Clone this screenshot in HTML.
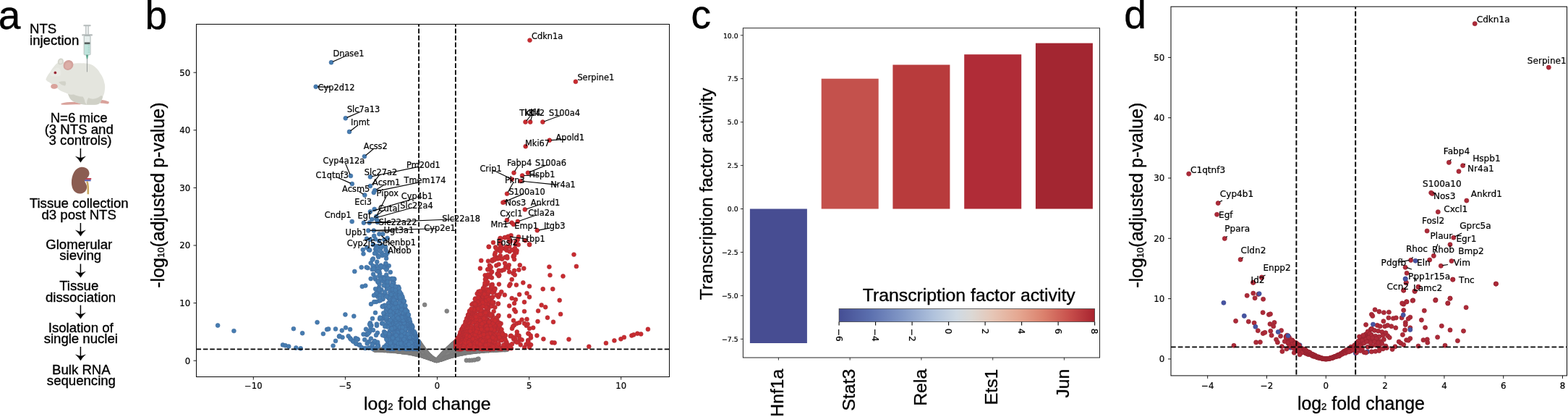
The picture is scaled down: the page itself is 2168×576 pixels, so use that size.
<!DOCTYPE html>
<html lang="en"><head><meta charset="utf-8"><title>Figure</title>
<style>
html,body{margin:0;padding:0;background:#fff;}
body{width:2168px;height:576px;overflow:hidden;}
svg{display:block;}
</style></head><body>
<svg width="2168" height="576" viewBox="0 0 2168 576">
<rect x="0" y="0" width="2168" height="576" fill="#ffffff"/>
<g id="panel-a">
<text x="-2.2" y="39.8" font-family="'Liberation Sans', sans-serif" font-size="55" text-anchor="start" fill="#000" stroke="#000" stroke-width="0.4" >a</text>
<text x="41.0" y="45.7" font-family="'Liberation Sans', sans-serif" font-size="18.6" text-anchor="start" fill="#000" stroke="#000" stroke-width="0.35" >NTS</text>
<text x="41.0" y="61.7" font-family="'Liberation Sans', sans-serif" font-size="18.6" text-anchor="start" fill="#000" stroke="#000" stroke-width="0.35" >injection</text>
<text x="109.2" y="169.0" font-family="'Liberation Sans', sans-serif" font-size="18.6" text-anchor="middle" fill="#000" stroke="#000" stroke-width="0.35" >N=6 mice</text>
<text x="109.2" y="184.5" font-family="'Liberation Sans', sans-serif" font-size="18.6" text-anchor="middle" fill="#000" stroke="#000" stroke-width="0.35" >(3 NTS and</text>
<text x="111.0" y="200.0" font-family="'Liberation Sans', sans-serif" font-size="18.6" text-anchor="middle" fill="#000" stroke="#000" stroke-width="0.35" >3 controls)</text>
<text x="109.2" y="286.8" font-family="'Liberation Sans', sans-serif" font-size="18.6" text-anchor="middle" fill="#000" stroke="#000" stroke-width="0.35" >Tissue collection</text>
<text x="109.2" y="303.0" font-family="'Liberation Sans', sans-serif" font-size="18.6" text-anchor="middle" fill="#000" stroke="#000" stroke-width="0.35" >d3 post NTS</text>
<text x="109.2" y="343.6" font-family="'Liberation Sans', sans-serif" font-size="18.6" text-anchor="middle" fill="#000" stroke="#000" stroke-width="0.35" >Glomerular</text>
<text x="111.2" y="359.4" font-family="'Liberation Sans', sans-serif" font-size="18.6" text-anchor="middle" fill="#000" stroke="#000" stroke-width="0.35" >sieving</text>
<text x="109.2" y="400.8" font-family="'Liberation Sans', sans-serif" font-size="18.6" text-anchor="middle" fill="#000" stroke="#000" stroke-width="0.35" >Tissue</text>
<text x="111.5" y="416.8" font-family="'Liberation Sans', sans-serif" font-size="18.6" text-anchor="middle" fill="#000" stroke="#000" stroke-width="0.35" >dissociation</text>
<text x="111.7" y="458.5" font-family="'Liberation Sans', sans-serif" font-size="18.6" text-anchor="middle" fill="#000" stroke="#000" stroke-width="0.35" >Isolation of</text>
<text x="111.8" y="473.8" font-family="'Liberation Sans', sans-serif" font-size="18.6" text-anchor="middle" fill="#000" stroke="#000" stroke-width="0.35" >single nuclei</text>
<text x="112.4" y="516.6" font-family="'Liberation Sans', sans-serif" font-size="18.6" text-anchor="middle" fill="#000" stroke="#000" stroke-width="0.35" >Bulk RNA</text>
<text x="112.4" y="532.4" font-family="'Liberation Sans', sans-serif" font-size="18.6" text-anchor="middle" fill="#000" stroke="#000" stroke-width="0.35" >sequencing</text>
<path d="M111.4 205 V220.7" stroke="#000" stroke-width="1.5" fill="none"/>
<path d="M104.5 216.1 Q108.9 217.8 111.4 218.3 Q113.9 217.8 118.3 216.1 Q113.6 220.1 111.4 224.3 Q109.2 220.1 104.5 216.1 Z" fill="#000" stroke="#000" stroke-width="0.4" stroke-linejoin="round"/>
<path d="M111.4 308 V322.6" stroke="#000" stroke-width="1.5" fill="none"/>
<path d="M104.5 318.0 Q108.9 319.7 111.4 320.2 Q113.9 319.7 118.3 318.0 Q113.6 322.0 111.4 326.2 Q109.2 322.0 104.5 318.0 Z" fill="#000" stroke="#000" stroke-width="0.4" stroke-linejoin="round"/>
<path d="M111.4 364.5 V379.7" stroke="#000" stroke-width="1.5" fill="none"/>
<path d="M104.5 375.1 Q108.9 376.8 111.4 377.3 Q113.9 376.8 118.3 375.1 Q113.6 379.1 111.4 383.3 Q109.2 379.1 104.5 375.1 Z" fill="#000" stroke="#000" stroke-width="0.4" stroke-linejoin="round"/>
<path d="M111.4 421.5 V436.7" stroke="#000" stroke-width="1.5" fill="none"/>
<path d="M104.5 432.1 Q108.9 433.8 111.4 434.3 Q113.9 433.8 118.3 432.1 Q113.6 436.1 111.4 440.3 Q109.2 436.1 104.5 432.1 Z" fill="#000" stroke="#000" stroke-width="0.4" stroke-linejoin="round"/>
<path d="M111.4 479 V494.4" stroke="#000" stroke-width="1.5" fill="none"/>
<path d="M104.5 489.8 Q108.9 491.5 111.4 492.0 Q113.9 491.5 118.3 489.8 Q113.6 493.8 111.4 498.0 Q109.2 493.8 104.5 489.8 Z" fill="#000" stroke="#000" stroke-width="0.4" stroke-linejoin="round"/>
<g id="mouse">
<path d="M139.5 137.8 Q146 138.6 150.6 140.6 Q151.2 143.4 148.6 143.6 Q143 142.6 138.5 142.6 Z" fill="#d9a29b"/>
<path d="M84.4 143 Q92 140.6 104 140.8 Q112 139.6 118 141.4 Q117 144.4 104 144.2 Q92 145 84.8 144.4 Z" fill="#d9a29b"/>
<path d="M63.5 109.2 C64.6 105.6 67 102.4 69.3 99.7 C71 96.6 72.6 94.2 74.5 91.9 C76.4 89.6 78.4 87.4 81 86 C86 84.6 92 86.6 97 88.6 C102 87.6 108 87.2 113.6 87.4 C119 87.2 124 88.2 128 90 C133 93 136.4 97 138.3 101 C141.4 105 143.4 109.4 144.2 114 C145.4 117.4 145.4 121 144.8 124.5 C144.6 128 143.6 131 142.2 133.6 C141.6 136 140.8 138.2 139.6 140.1 C138.6 142 137.4 143.4 135.7 144 C131 145 125 145 120.1 144.7 C115 144.6 110.6 143.6 107 142 C103.4 141 100 139.6 98 137.5 C96 135.4 95 132.4 94 129.7 C92 128.6 89.6 127.8 87.5 127 C85 126.2 82.8 125 81 123.2 C78 121 72 116.4 68 113.4 C66.4 113 65.4 112.4 64.8 111.5 C63.8 111 63.3 110.2 63.5 109.2 Z" fill="#e4e5de"/>
<path d="M94 129.7 C96 130.6 99 131 102 130.6 C106 132.6 110 133.6 114.6 133.4 C116.4 136 117.4 139 117.6 141.6 C118.6 142.8 119.4 143.8 120.1 144.7 C115 144.6 110.6 143.6 107 142 C103.4 141 100 139.6 98 137.5 C96 135.4 95 132.4 94 129.7 Z" fill="#cfd0c6"/>
<path d="M120.1 144.7 C119.8 141 120.4 137.6 122.4 135 C127 138 134 137 139 132.6 C140.6 131.6 141.6 132.4 142.2 133.6 C141.6 136 140.8 138.2 139.6 140.1 C138.6 142 137.4 143.4 135.7 144 C131 145 125 145 120.1 144.7 Z" fill="#d0d1c7"/>
<path d="M81 113.6 C84 112.4 87.6 112 90.4 112.6 C91.6 114.6 91.4 116.8 90 118.6 C87 118.4 84 117 81 113.6 Z" fill="#d2d3c9"/>
<path d="M70 99 C73 96 77 94 81 93.6 C84 96 85 100 84 104 C80 106 75 106.4 70.4 105 C69 103 69.2 101 70 99 Z" fill="#e9eae4"/>
<path d="M79.8 86.4 C79.6 82.4 82 80.2 84.6 80.4 C87.4 80.6 88.4 83.4 87.8 86 C87 88.6 85 89.6 82.6 89.2 C80.8 88.8 80 87.8 79.8 86.4 Z" fill="#d4d5cc"/>
<path d="M81.6 86 C81.6 83.6 83 82.2 84.6 82.4 C86.2 82.8 86.6 84.4 86.2 86 C85.6 87.6 84.2 88 83 87.8 C82 87.4 81.6 86.8 81.6 86 Z" fill="#e4e4dc"/>
<path d="M87.6 90.6 C87.8 85.6 91.8 82.6 96.4 83.2 C100.4 84 102.2 87.6 101 91.6 C99.6 95.6 95.4 97.8 91.6 96.6 C88.8 95.6 87.4 93.4 87.6 90.6 Z" fill="#d3a29c"/>
<path d="M89.8 90.8 C90.2 87.2 93 85.4 96 86 C98.6 86.8 99.4 89.4 98.4 92 C97.2 94.6 94.4 95.8 92.2 95 C90.4 94.2 89.6 92.6 89.8 90.8 Z" fill="#dcaea7"/>
<circle cx="76.4" cy="100.4" r="1.9" fill="#a8323f"/>
<circle cx="76.4" cy="100.4" r="0.8" fill="#7a1e2a"/>
<path d="M70.2 119.2 C70.4 116.8 72.6 115.8 75 116 C78 115.8 80 117.6 79.8 119.8 C79.4 122 77 123 74.6 122.8 C72 122.8 70 121.4 70.2 119.2 Z" fill="#d9a29b"/>
</g>
<g id="syringe">
<rect x="118.4" y="35.5" width="4.2" height="13" fill="#e3e7e7" stroke="#a9b0b0" stroke-width="0.7"/>
<rect x="115.4" y="34.2" width="10.2" height="2" rx="0.6" fill="#b4baba"/>
<rect x="113.2" y="47.3" width="14.7" height="2.3" rx="0.8" fill="#b4baba"/>
<rect x="116.2" y="49.5" width="8.8" height="26.3" rx="1" fill="#e6eeed" stroke="#a3adab" stroke-width="0.9"/>
<rect x="116.8" y="61" width="7.6" height="14.4" fill="#bfe4dc"/>
<rect x="116.8" y="58.4" width="7.6" height="2.7" fill="#56605e"/>
<path d="M121.6 63 h2.4 M121.6 66 h2.4 M121.6 69 h2.4 M121.6 72 h2.4" stroke="#7fb5a8" stroke-width="0.5"/>
<path d="M118.8 75.8 h3.4 l-1 5.6 h-1.4 Z" fill="#5aa58c"/>
<line x1="120.45" y1="81" x2="120.45" y2="99.4" stroke="#8a908e" stroke-width="0.9"/>
</g>
<g id="kidney">
<path d="M120.2 250.5 C122.4 255 121.6 262 121.8 268.2" stroke="#c9a962" stroke-width="2.6" fill="none"/>
<path d="M117 247 h9.2" stroke="#c0364a" stroke-width="1.9"/>
<path d="M117 249.2 h8.6" stroke="#5a5fae" stroke-width="2.2"/>
<path d="M112.5 230.8 C119 230.2 124.2 235 123.4 240.6 C122.8 244.6 119.6 246.6 117.2 248.6 C116 250.2 118.4 252.4 119.6 255.4 C121.4 260.4 118.4 267.2 111 267.6 C103.4 267.8 99 261 98.9 252.4 C98.8 242 103.8 231.6 112.5 230.8 Z" fill="#8b5d52"/>
</g>
</g>
<g id="panel-b">
<text x="200.4" y="39.7" font-family="'Liberation Sans', sans-serif" font-size="55" text-anchor="start" fill="#000" stroke="#000" stroke-width="0.4" >b</text>
<defs><marker id="m0" markerWidth="10" markerHeight="10" refX="5" refY="5" markerUnits="userSpaceOnUse" overflow="visible"><circle cx="5" cy="5" r="2.95" fill="#838383" stroke="#777777" stroke-width="0.6"/></marker></defs>
<path d="M560.9 482.6L617.9 488.8L557.2 485.7L602.2 497.5L561.2 486.6L558.5 485.3L659.1 483.3L639.5 488.1L696.0 482.6L594.2 492.8L607.9 495.2L609.7 496.4L614.2 495.0L629.1 482.3L540.8 483.5L629.5 478.9L552.1 484.2L604.6 497.9L602.8 497.6L596.4 495.3L574.6 487.4L659.4 484.3L630.4 483.5L536.7 482.6L663.1 485.2L624.1 485.1L680.2 482.3L593.4 492.2L612.8 489.7L602.6 497.6L619.6 481.8L605.4 497.4L586.7 491.6L663.6 484.6L627.9 481.4L582.6 481.0L612.0 495.1L593.5 493.1L590.6 492.5L592.8 490.9L698.4 483.0L622.9 486.9L588.3 486.0L594.2 491.5L591.8 493.1L601.3 497.2L665.7 484.2L618.4 487.3L611.4 494.6L576.9 486.5L584.1 479.8L558.2 482.9L609.2 496.0L648.6 483.1L668.6 484.1L626.1 476.3L658.7 485.0L674.5 483.1L581.8 484.8L612.4 488.7L610.6 495.0L596.8 494.2L578.2 485.5L598.5 495.6L625.8 490.5L610.7 491.2L649.6 484.0L589.5 492.0L682.5 483.8L599.8 496.9L642.9 486.8L573.0 488.2L638.5 486.3L681.8 482.8L541.3 483.1L587.6 492.6L594.6 495.1L651.2 482.4L574.9 489.3L577.7 484.4L573.7 487.0L618.6 487.5L604.4 497.8L651.6 483.5L570.4 483.6L633.0 484.6L587.6 484.9L630.0 484.0L577.7 483.4L559.8 485.1L582.5 483.0L593.2 492.0L595.3 492.5L646.3 485.3L565.1 483.7L571.0 483.3L585.8 491.4L604.5 497.8L595.7 494.3L611.3 492.9L659.2 483.6L628.5 490.6L591.4 492.4L594.1 494.4L583.0 479.0L583.9 480.4L572.0 486.7L592.6 492.5L584.1 481.7L667.4 483.9L566.9 484.6L596.7 494.8L622.1 481.2L637.1 482.6L558.9 485.5L623.5 488.3L638.5 487.2L561.7 484.7L630.2 487.8L658.1 484.2L519.0 483.4L675.4 484.2L618.7 485.6L576.9 483.9L591.4 494.0L630.3 490.2L634.0 483.5L606.0 497.5L624.1 482.7L557.1 483.7L621.1 482.5L656.7 485.1L590.6 490.8L606.8 496.2L609.2 493.3L616.7 490.8L630.1 484.7L555.8 483.3L598.2 495.8L624.7 490.6L529.7 482.4L601.3 497.1L586.0 485.8L633.7 485.4L585.9 483.1L629.3 482.2L522.7 482.8L620.4 482.8L659.2 483.5L599.5 496.0L580.4 474.2L648.2 483.3L598.2 496.0L663.6 484.2L567.0 487.5L562.6 483.4L620.8 486.8L668.2 484.6L616.0 486.8L619.5 484.0L632.9 488.7L630.0 484.5L639.0 483.3L572.6 485.7L524.7 482.4L626.1 483.0L617.5 491.0L597.8 495.4L554.2 482.9L575.9 486.9L593.2 491.1L624.2 479.3L590.3 487.4L558.6 485.8L597.5 495.2L556.0 486.2L603.5 497.6L568.7 483.5L600.9 497.0L550.0 485.4L607.6 495.4L528.0 482.4L650.5 485.4L586.2 488.0L607.6 494.4L637.3 486.7L580.8 487.8L544.7 484.7L549.8 483.0L627.6 487.2L607.8 494.7L589.9 489.4L634.5 488.7L602.3 497.5L586.4 490.0L618.6 488.8L645.9 485.4L567.1 487.0L627.1 487.8L570.1 485.2L567.2 483.1L550.9 484.9L559.2 483.4L633.0 487.4L533.2 483.6L626.6 474.9L592.9 490.6L622.0 482.8L624.1 488.2L659.6 484.2L643.0 483.4L629.9 477.8L630.2 490.3L620.9 481.3L655.9 482.4L636.1 483.9L632.5 486.0L595.4 495.3L583.3 490.2L648.3 484.5L615.0 489.8L618.3 491.6L622.6 480.8L685.7 483.6L599.5 496.8L642.3 483.6L592.6 493.0L562.6 485.1L613.3 490.7L659.6 482.8L609.1 496.0L548.6 484.2L621.2 490.4L626.2 491.2L641.2 482.9L622.2 480.8L551.8 483.6L564.8 484.9L631.7 482.4L613.8 487.8L578.6 484.3L615.9 490.7L540.2 482.5L644.4 483.5L566.9 483.6L557.2 486.2L636.3 486.7L599.4 496.4L605.5 496.9L586.1 482.6L586.3 485.7L577.1 485.6L649.0 484.4L569.8 483.7L561.4 482.4L653.2 483.3L611.5 494.4L595.2 494.8L611.1 493.9L626.5 476.5L620.2 486.4L599.9 496.5L655.2 483.0L602.9 497.8L555.4 486.0L570.0 482.7L626.1 488.8L638.4 485.5L595.0 492.4L596.6 494.9L557.1 484.9L596.5 495.2L578.9 488.1L566.7 483.9L602.8 497.7L610.2 496.3L637.5 486.2L654.2 482.7L604.4 497.6L593.1 490.5L673.7 483.5L638.9 485.5L630.7 486.1L600.0 496.3L597.7 494.6L565.1 483.3L590.5 489.9L593.8 493.2L607.8 495.3L615.6 493.6L555.0 484.4L623.1 488.6L572.2 483.8L586.2 487.0L692.4 482.6L603.2 497.8L661.3 482.9L653.8 483.7L586.6 485.7L626.4 482.2L562.2 483.5L577.1 488.5L605.1 497.1L611.8 495.7L597.5 495.7L560.2 486.4L627.0 482.2L618.1 486.4L611.2 492.7L581.1 483.4L579.3 486.7L571.8 483.3L653.4 485.9L651.8 483.8L648.8 483.3L613.1 493.6L640.9 483.4L569.3 482.3L642.5 486.0L548.3 482.5L586.8 488.5L593.5 491.3L616.3 493.8L644.3 485.0L627.4 479.5L585.9 491.6L663.1 484.6L596.8 495.3L592.0 490.6L594.5 494.7L577.3 487.3L599.4 496.7L570.9 484.1L532.2 482.4L570.9 482.8L545.2 484.3L628.9 485.1L537.4 482.5L653.5 485.2L582.6 486.2L630.4 487.2L586.7 487.1L619.7 483.7L539.0 483.3L587.4 491.2L608.6 495.8L531.2 484.1L560.1 484.3L600.1 496.3L567.1 487.6L552.2 483.9L608.0 496.9L590.0 488.7L616.6 488.0L595.6 495.2L603.1 497.8L553.0 485.1L608.7 493.6L561.5 485.2L555.5 483.6L684.1 483.0L549.2 483.2L591.3 488.8L548.1 483.3L640.0 483.2L627.7 475.8L541.2 482.4L576.9 484.5L571.0 483.5L571.7 487.9L622.1 482.5L639.0 487.4L602.6 497.6L578.2 482.5L617.9 493.3L598.2 495.5L620.9 483.0L610.0 494.1L616.0 488.9L612.7 495.0L599.3 496.6L609.8 492.8L630.0 485.6L608.2 496.0L627.0 488.4L605.9 496.6L573.8 483.6L577.1 483.1L608.1 493.6L580.0 474.1L642.0 485.2L606.6 495.2L615.7 487.0L571.8 485.5L633.3 487.6L656.5 485.0L601.3 497.3L570.7 483.6L610.4 492.3L588.1 491.7L591.6 492.4L600.3 496.7L676.2 483.0L632.5 485.8L603.3 497.9L604.7 497.6L602.7 497.5L611.0 494.6L591.2 489.9L637.9 485.7L627.8 474.5L544.4 484.2L568.1 483.5L535.7 484.2L644.0 483.2L616.0 489.5L647.5 486.3L619.6 489.7L577.7 489.6L590.8 489.6L642.0 485.9L598.0 495.8L589.0 489.8L670.0 483.1L590.7 493.8L564.4 486.2L643.6 484.6L599.5 495.9L605.8 496.3L617.7 490.9L651.9 484.9L575.5 487.1L597.1 495.3L590.8 492.7L580.8 478.9L563.5 484.5L679.8 482.8L571.8 488.2L662.6 484.8L648.9 483.6L634.4 488.1L549.1 483.6L643.5 487.2L607.6 496.9L625.1 485.5L676.4 483.4L639.8 485.2L568.0 483.3L556.0 484.7L586.5 492.4L636.5 486.3L573.3 483.7L578.4 490.2L563.3 485.6L576.2 489.0L647.7 485.2L541.9 482.7L600.8 496.9L637.6 482.9L655.4 484.0L579.3 488.0L638.0 484.1L647.2 483.6L600.9 496.9L632.4 485.1L685.5 483.4L627.6 481.2L617.8 486.4L565.4 485.7L676.4 483.3L672.8 484.1L671.9 482.5L560.5 484.3L592.2 493.1L697.8 482.5L544.7 483.4L652.1 485.2L650.8 482.7L607.2 494.9L650.9 485.8L591.0 493.8L600.3 496.9L688.5 482.7L597.6 495.7L576.8 487.0L553.3 483.8L606.6 497.0L598.4 495.8L626.4 482.1L632.0 488.6L576.9 485.6L601.1 497.1L598.3 495.5L596.8 495.7L651.1 484.5L592.3 492.4L565.7 483.6L566.3 483.7L614.8 487.5L626.9 484.0L575.7 485.5L640.5 485.1L580.1 483.3L630.3 489.9L586.8 485.6L651.3 484.0L570.6 483.8L588.4 492.6L649.4 486.2L564.8 485.5L618.3 493.3L589.7 491.9L563.6 485.8L583.8 490.9L620.4 481.7L656.0 482.8L593.5 493.1L613.1 489.8L580.8 481.6L617.8 485.3L595.3 495.1L519.5 483.6L584.0 488.7L594.9 495.1L634.5 483.0L618.8 489.6L571.7 485.0L613.1 488.6L607.0 496.5L521.5 482.3L605.3 497.2L612.5 488.9L633.2 483.0L627.3 485.2L668.4 483.6L639.0 482.3L669.1 484.2L588.9 486.5L587.3 492.3L649.5 485.4L639.9 482.9L642.9 487.0L563.4 483.8L640.2 487.8L589.8 492.0L584.8 489.7L657.0 485.2L609.3 492.9L656.9 484.5L565.7 484.5L541.6 484.2L578.9 485.0L681.7 483.5L594.6 491.9L592.6 492.4L561.4 486.8L596.8 494.6L598.7 495.6L630.9 489.5L591.4 492.7L662.8 484.4L582.7 478.8L597.7 494.6L643.2 483.6L612.8 492.8L642.3 486.9L586.5 487.0L583.9 483.4L578.0 484.0L562.5 483.0L600.1 496.5L517.7 483.3L593.2 491.4L629.2 486.4L646.5 485.0L613.5 489.0L542.6 484.3L579.4 480.0L606.2 496.5L651.3 483.5L615.1 489.7L620.1 491.4L588.4 493.0L566.5 485.4L605.4 497.3L608.6 493.0L591.3 490.9L543.8 484.4L587.6 491.6L600.6 496.9L614.2 489.9L576.9 485.4L600.1 496.9L613.9 493.2L584.8 490.1L580.1 477.1L542.0 484.7L575.8 488.1L622.5 479.0L644.3 483.5L615.3 485.6L628.6 477.6L635.4 488.9L608.9 496.3L679.2 483.4L593.4 494.5L640.2 488.0L664.9 483.0L603.0 497.8L603.6 497.9L649.6 484.7L635.4 486.9L590.6 487.6L596.7 495.1L598.0 495.3L635.0 484.4L616.2 485.9L542.0 483.7L564.5 485.4L623.7 480.7L575.4 488.0L591.5 491.1L623.1 490.0L611.6 493.0L628.2 485.5L641.2 484.1L620.2 488.5L586.2 491.7L592.3 493.1L573.0 489.0L616.0 490.8L629.8 473.5L598.4 496.0L577.0 488.8L635.5 483.9L591.5 490.1L610.5 494.6L600.5 496.9L668.3 484.0L641.2 483.6L592.6 492.7L603.1 497.8L624.2 483.1L609.7 496.6L590.2 490.2L639.1 487.6L597.1 494.6L577.9 484.9L619.0 490.4L623.7 481.7L575.4 483.3L624.2 488.6L595.9 495.1L636.1 488.8L654.1 484.0L612.2 490.1L634.1 484.7L599.9 496.3L616.0 488.1L657.7 482.4L622.1 484.0L585.3 491.2L572.6 488.6L620.1 488.5L584.8 488.8L641.3 487.1L571.4 487.7L627.7 479.6L605.5 497.2L620.2 488.0L632.0 484.6L642.7 484.7L602.1 497.4L597.2 495.4L637.9 488.3L618.5 488.2L570.2 486.5L583.9 488.6L637.0 483.0L609.3 494.0L600.6 497.0L657.2 484.1L538.2 483.7L545.9 483.5L661.7 483.4L582.8 482.8L573.2 487.2L624.1 479.7L629.9 473.6L580.6 490.2L632.3 487.5L636.4 486.6L518.1 483.1L518.8 483.1L519.5 483.2L520.2 483.2L520.9 483.2L521.6 483.2L522.3 483.3L523.0 483.3L523.7 483.3L524.4 483.4L525.1 483.4L525.8 483.4L526.6 483.5L527.3 483.5L528.0 483.5L528.7 483.6L529.4 483.6L530.1 483.7L530.8 483.7L531.5 483.7L532.2 483.8L532.9 483.8L533.6 483.9L534.3 483.9L535.0 484.0L535.7 484.0L536.4 484.1L537.2 484.1L537.9 484.2L538.6 484.2L539.3 484.3L540.0 484.3L540.7 484.4L541.4 484.4L542.1 484.5L542.8 484.5L543.5 484.6L544.2 484.7L544.9 484.7L545.6 484.8L546.3 484.8L547.0 484.9L547.8 485.0L548.5 485.0L549.2 485.1L549.9 485.2L550.6 485.3L551.3 485.3L552.0 485.4L552.7 485.5L553.4 485.6L554.1 485.7L554.8 485.7L555.5 485.8L556.2 485.9L556.9 486.0L557.6 486.1L558.4 486.2L559.1 486.3L559.8 486.4L560.5 486.5L561.2 486.6L561.9 486.7L562.6 486.8L563.3 486.9L564.0 487.0L564.7 487.1L565.4 487.3L566.1 487.4L566.8 487.5L567.5 487.6L568.2 487.8L569.0 487.9L569.7 488.0L570.4 488.2L571.1 488.3L571.8 488.4L572.5 488.6L573.2 488.7L573.9 488.9L574.6 489.0L575.3 489.2L576.0 489.3L576.7 489.5L577.4 489.7L578.1 489.8L578.8 490.0L579.6 490.2L580.3 490.4L581.0 490.6L581.7 490.8L582.4 490.9L583.1 491.1L583.8 491.3L584.5 491.5L585.2 491.8L585.9 492.0L586.6 492.2L587.3 492.4L588.0 492.6L588.7 492.8L589.4 493.1L590.2 493.3L590.9 493.5L591.6 493.8L592.3 494.0L593.0 494.3L593.7 494.5L594.4 494.7L595.1 495.0L595.8 495.2L596.5 495.5L597.2 495.7L597.9 495.9L598.6 496.2L599.3 496.4L600.0 496.6L600.8 496.7L601.5 496.9L602.2 497.0L602.9 497.1L603.6 497.2L604.3 497.2L605.0 497.2L605.7 497.2L606.4 497.1L607.1 497.0L607.8 496.8L608.5 496.7L609.2 496.5L609.9 496.3L610.6 496.1L611.4 495.8L612.1 495.6L612.8 495.4L613.5 495.1L614.2 494.9L614.9 494.6L615.6 494.4L616.3 494.2L617.0 493.9L617.7 493.7L618.4 493.4L619.1 493.2L619.8 493.0L620.5 492.8L621.2 492.5L622.0 492.3L622.7 492.1L623.4 491.9L624.1 491.7L624.8 491.5L625.5 491.3L626.2 491.1L626.9 490.9L627.6 490.7L628.3 490.5L629.0 490.3L629.7 490.1L630.4 490.0L631.1 489.8L631.8 489.6L632.6 489.4L633.3 489.3L634.0 489.1L634.7 489.0L635.4 488.8L636.1 488.7L636.8 488.5L637.5 488.4L638.2 488.2L638.9 488.1L639.6 488.0L640.3 487.8L641.0 487.7L641.7 487.6L642.4 487.5L643.2 487.3L643.9 487.2L644.6 487.1L645.3 487.0L646.0 486.9L646.7 486.8L647.4 486.7L648.1 486.6L648.8 486.5L649.5 486.4L650.2 486.3L650.9 486.2L651.6 486.1L652.3 486.0L653.0 485.9L653.8 485.8L654.5 485.7L655.2 485.6L655.9 485.5L656.6 485.5L657.3 485.4L658.0 485.3L658.7 485.2L659.4 485.2L660.1 485.1L660.8 485.0L661.5 485.0L662.2 484.9L662.9 484.8L663.6 484.8L664.3 484.7L665.1 484.6L665.8 484.6L666.5 484.5L667.2 484.5L667.9 484.4L668.6 484.3L669.3 484.3L670.0 484.2L670.7 484.2L671.4 484.1L672.1 484.1L672.8 484.0L673.5 484.0L674.2 483.9L674.9 483.9L675.7 483.9L676.4 483.8L677.1 483.8L677.8 483.7L678.5 483.7L679.2 483.6L679.9 483.6L680.6 483.6L681.3 483.5L682.0 483.5L682.7 483.5L683.4 483.4L684.1 483.4L684.8 483.4L685.5 483.3L686.3 483.3L687.0 483.3L687.7 483.2L688.4 483.2L689.1 483.2L689.8 483.1L690.5 483.1L691.2 483.1L691.9 483.1L692.6 483.0L693.3 483.0L694.0 483.0L694.7 483.0L695.4 482.9L696.1 482.9L696.9 482.9L697.6 482.9L698.3 482.9L699.0 482.8L699.7 482.8L700.4 482.8L701.1 482.8L579.1 471.9L579.9 473.3L580.8 474.6L581.7 475.8L582.5 477.1L583.4 478.3L584.3 479.5L585.1 480.7L586.0 481.9L586.8 483.0L587.7 484.1L588.6 485.2L589.4 486.2L590.3 487.2L591.1 488.2L592.0 489.1L592.9 490.1L593.7 491.0L594.6 491.8L595.5 492.6L596.3 493.4L597.2 494.1L598.0 494.8L598.9 495.5L599.8 496.1L600.6 496.6L601.5 497.1L602.3 497.5L603.2 497.6L604.1 497.6L604.9 497.4L605.8 496.1L606.7 495.0L607.5 493.9L608.4 492.9L609.2 491.9L610.1 490.9L611.0 490.0L611.8 489.1L612.7 488.2L613.5 487.3L614.4 486.4L615.3 485.5L616.1 484.7L617.0 483.8L617.9 483.0L618.7 482.2L619.6 481.3L620.4 480.5L621.3 479.7L622.2 478.9L623.0 478.1L623.9 477.3L624.7 476.5L625.6 475.8L626.5 475.0L627.3 474.2L628.2 473.5L629.1 472.7L629.9 471.9L587.2 421.0L617.8 429.7L644.9 497.8L649.0 497.8L652.5 497.6L656.0 497.2L660.0 496.3L661.5 495.6" fill="none" stroke="none" marker-start="url(#m0)" marker-mid="url(#m0)" marker-end="url(#m0)"/>
<defs><marker id="m1" markerWidth="10" markerHeight="10" refX="5" refY="5" markerUnits="userSpaceOnUse" overflow="visible"><circle cx="5" cy="5" r="2.95" fill="#467cb0" stroke="#416c9e" stroke-width="0.6"/></marker></defs>
<path d="M568.9 478.1L548.5 453.2L551.7 469.5L543.6 462.0L540.4 471.9L555.1 472.7L562.2 452.7L559.3 457.5L561.4 473.7L564.7 475.4L574.1 477.3L574.5 480.6L541.7 451.2L552.0 465.6L557.1 480.9L559.6 441.7L540.3 450.2L549.4 435.2L548.1 451.0L551.0 478.9L578.5 475.6L566.8 459.8L557.7 452.6L529.5 413.3L566.2 479.1L550.6 448.8L560.7 481.6L543.3 470.4L542.7 435.8L540.0 445.4L565.4 462.2L572.7 479.4L575.6 465.2L565.0 461.0L564.3 475.7L576.1 474.6L554.5 425.4L536.6 465.5L563.9 465.4L554.1 480.8L552.2 457.4L568.7 467.4L573.9 481.6L547.5 480.3L578.7 472.8L578.8 476.3L551.7 463.2L553.5 469.3L569.2 479.6L570.4 451.2L559.4 460.4L545.8 455.0L538.5 471.1L563.6 472.4L553.3 447.8L565.8 453.2L578.4 471.3L552.9 464.5L547.3 404.8L560.3 446.5L549.5 476.0L549.5 477.3L542.5 407.1L565.4 478.2L541.7 456.0L544.2 432.9L558.9 479.2L560.0 466.9L557.6 475.6L559.9 463.8L569.2 459.4L559.8 466.2L535.0 448.3L567.8 478.8L559.8 475.5L542.4 411.6L559.3 480.6L565.0 474.9L560.8 462.7L544.1 456.0L550.0 465.1L548.8 444.8L574.8 478.1L542.8 481.3L550.6 436.6L561.9 434.1L547.0 476.4L556.2 449.1L565.8 481.9L548.4 457.0L547.8 477.2L534.5 466.3L531.1 458.3L557.7 452.3L562.2 468.9L547.9 438.6L549.4 409.9L566.4 460.2L531.3 433.2L559.8 469.8L567.6 480.6L545.2 467.5L566.8 453.9L549.5 424.8L546.7 438.5L576.7 479.6L547.5 470.8L547.6 454.1L562.3 481.7L565.6 470.8L549.3 454.0L551.3 469.5L563.0 480.5L567.9 455.1L560.5 470.5L543.1 447.8L538.8 457.4L549.4 448.8L552.5 481.9L542.5 424.7L566.3 462.8L571.1 464.2L567.6 479.9L566.3 444.0L556.2 476.0L538.1 466.6L566.5 478.0L549.6 469.0L540.8 468.7L547.2 448.5L565.7 481.5L553.1 456.0L574.2 480.2L537.8 418.3L543.3 426.8L534.0 422.6L560.7 474.7L557.8 465.8L577.3 481.0L565.5 463.2L565.9 479.6L560.5 465.4L539.6 482.1L543.8 482.1L564.6 470.7L556.9 473.2L558.1 472.6L559.2 446.6L565.7 474.3L538.4 432.2L559.8 480.0L543.0 472.1L536.4 442.7L559.2 481.0L524.1 415.5L538.4 446.7L555.0 468.5L565.3 480.3L552.8 446.8L547.6 479.1L541.9 480.4L566.3 454.3L564.9 472.8L540.7 417.2L553.9 435.7L563.8 481.5L544.3 453.7L543.6 469.8L571.5 477.6L562.9 471.5L550.4 459.5L549.2 435.2L570.9 472.2L559.7 474.6L541.3 474.7L551.6 470.2L558.4 461.4L572.9 465.3L578.0 473.0L558.5 451.7L560.1 478.1L561.2 440.5L555.3 476.6L560.5 479.0L547.5 423.8L525.7 405.4L569.4 449.2L564.4 462.7L568.2 478.7L556.5 473.7L542.3 429.6L556.0 458.3L561.2 454.8L570.0 480.9L554.3 442.9L547.1 449.0L536.0 471.4L562.6 479.3L576.4 480.4L567.9 461.1L561.5 429.9L542.4 481.5L554.3 452.8L571.9 480.2L567.5 463.2L567.6 451.2L562.2 465.3L564.6 478.6L547.7 451.4L554.8 416.2L554.5 465.1L548.9 458.1L540.5 481.5L542.1 481.7L544.4 452.6L535.0 440.3L552.3 436.6L570.9 481.9L545.9 459.8L571.9 466.8L558.1 478.1L542.0 443.3L569.0 474.6L551.6 428.9L556.0 472.1L536.5 442.5L560.5 475.1L539.1 470.5L553.4 469.8L566.9 471.8L550.9 473.7L552.7 465.8L574.4 470.1L552.2 476.4L554.2 414.0L561.0 450.3L540.9 453.4L564.3 466.9L544.4 411.1L571.3 481.0L558.1 478.9L538.2 460.9L575.7 480.1L548.7 472.9L551.9 464.4L548.3 473.4L562.4 466.6L554.4 476.9L566.4 481.6L571.4 480.9L560.8 448.3L552.0 441.4L565.2 477.1L552.4 481.2L553.0 470.5L540.7 472.6L556.7 460.1L572.8 472.0L550.5 412.3L562.6 464.2L564.9 449.5L531.1 407.2L559.4 471.4L557.6 417.1L552.3 464.8L557.8 466.5L551.1 456.2L571.9 480.0L530.7 437.3L540.0 464.4L539.9 465.1L566.2 464.5L545.3 436.5L544.9 452.8L559.2 441.1L578.5 475.2L556.8 464.0L553.8 420.6L552.9 454.3L547.5 472.8L558.7 446.1L550.3 449.2L535.0 443.1L558.2 456.3L544.1 481.7L551.2 475.7L559.7 452.1L554.4 477.0L537.4 409.7L563.4 473.5L547.7 444.4L561.3 465.2L566.2 466.0L571.4 460.1L557.0 480.9L540.9 406.5L540.1 475.4L551.0 479.0L537.9 445.7L528.8 423.0L573.7 463.2L568.6 478.1L539.4 449.9L554.9 455.7L540.9 479.4L552.0 426.4L553.1 452.1L547.4 460.6L541.1 453.2L557.7 478.8L561.7 481.8L555.7 466.2L534.2 465.3L569.6 479.0L548.9 431.1L543.5 426.7L558.1 467.1L563.7 472.6L564.3 473.1L559.1 465.9L546.2 424.1L541.8 453.9L541.9 406.1L556.2 455.3L578.4 471.6L549.6 468.6L537.3 475.9L577.5 476.7L561.1 460.0L550.0 459.5L555.8 460.2L539.2 462.3L546.6 472.3L558.7 474.1L543.9 464.9L560.0 454.6L562.1 478.3L538.3 463.1L576.3 471.2L554.8 473.2L551.9 437.4L548.3 462.6L541.5 478.2L552.9 413.2L556.3 480.0L550.9 474.5L553.6 481.6L555.1 476.2L572.8 471.8L543.4 465.9L568.4 460.8L573.5 475.9L560.9 471.6L557.3 437.5L571.3 471.1L546.7 427.7L577.5 475.7L556.6 452.0L558.9 460.0L566.6 458.9L573.1 481.7L554.2 474.2L567.1 472.4L564.2 461.3L578.4 473.5L568.8 472.8L565.5 479.2L555.2 464.0L555.9 457.5L558.6 468.7L547.7 463.1L565.3 475.8L560.2 481.5L539.7 473.7L542.3 436.2L543.0 466.8L548.0 418.9L538.6 462.3L531.4 463.8L561.9 481.9L519.1 385.6L536.5 410.6L548.3 431.9L550.6 428.9L541.8 394.4L518.5 382.9L552.1 419.8L531.8 386.0L512.7 363.3L557.9 434.0L541.8 406.7L519.2 344.4L531.7 440.0L539.9 426.3L547.9 427.2L553.9 438.7L524.4 375.3L555.2 415.6L553.2 404.7L548.7 440.9L560.1 433.5L539.2 403.8L560.8 427.3L532.9 440.6L530.1 388.6L557.6 439.5L558.2 440.3L550.8 437.4L559.2 440.4L560.2 435.9L557.7 432.2L534.2 395.7L551.2 440.2L551.0 442.0L534.9 399.0L520.8 373.9L533.8 440.2L534.1 357.0L552.8 414.6L520.8 367.3L535.9 394.5L529.2 383.0L550.9 396.2L526.9 387.3L538.7 430.6L556.1 425.5L563.1 430.1L556.4 442.4L542.8 385.9L532.8 405.9L545.5 412.0L537.7 367.1L515.9 357.4L557.7 432.6L517.1 369.4L545.7 439.1L511.3 345.5L558.8 416.5L560.9 428.0L527.3 400.2L536.9 419.0L536.8 397.5L544.5 423.6L540.4 441.9L548.5 402.8L536.3 390.4L531.1 423.4L541.2 414.5L554.7 406.1L554.1 414.1L537.3 433.5L522.2 409.7L552.4 429.1L547.5 434.6L545.8 438.8L544.4 390.7L561.5 433.8L531.9 383.7L547.3 429.6L532.0 422.5L550.6 438.2L541.8 421.0L541.6 440.2L554.9 426.5L526.7 366.6L539.8 376.0L552.8 436.9L541.8 384.9L533.8 390.6L522.4 389.5L541.2 413.4L544.4 417.1L528.6 352.9L544.8 385.1L522.7 353.2L534.6 435.5L559.7 437.6L547.0 418.2L556.7 411.7L539.7 385.7L548.6 435.4L555.7 441.6L525.0 440.5L543.1 417.6L538.8 435.0L560.1 436.8L535.6 394.4L531.4 384.7L543.2 432.9L520.2 372.9L533.4 345.3L542.8 432.7L524.6 407.6L557.7 420.0L551.8 398.3L537.6 425.2L538.2 412.8L555.1 425.9L563.1 430.2L507.3 342.0L537.9 431.5L553.6 429.4L546.7 406.7L536.1 384.2L538.5 408.5L525.2 378.1L550.4 433.7L527.9 440.6L522.4 341.2L531.7 421.7L558.6 415.7L521.3 361.7L532.7 437.6L531.2 368.1L522.7 406.9L542.6 391.3L548.6 430.0L548.4 410.0L543.3 402.7L528.5 412.2L556.0 438.4L544.9 428.1L543.1 398.4L545.4 441.5L546.2 416.0L540.2 422.8L546.6 441.4L521.8 400.9L524.0 397.2L532.1 403.5L525.5 370.4L530.6 394.3L544.4 439.5L526.2 439.6L530.2 432.5L520.1 405.1L539.9 442.1L514.8 358.8L534.1 369.2L562.5 440.6L535.7 435.1L546.1 436.0L538.0 410.6L519.8 344.1L512.7 385.0L552.2 421.6L532.2 369.3L554.9 427.0L547.9 436.5L540.8 406.8L550.9 424.8L545.3 385.7L541.1 428.2L520.1 340.0L543.0 438.2L552.0 440.0L534.5 409.5L520.1 416.9L535.0 370.8L551.6 409.0L557.5 442.3L533.8 428.5L534.2 379.6L530.7 369.2L534.4 438.4L524.3 381.1L527.9 349.2L535.7 389.4L543.9 417.3L524.5 392.3L552.4 407.9L553.3 420.5L547.4 424.6L544.4 414.5L534.0 352.2L541.3 400.3L551.2 423.3L543.0 399.8L520.6 348.3L515.7 367.2L522.9 340.4L546.8 395.8L547.7 402.7L555.9 438.4L533.1 422.4L535.4 426.2L564.4 438.1L514.6 372.1L550.8 439.0L556.2 409.5L546.7 400.9L516.7 371.3L542.0 394.3L528.8 423.6L517.3 417.0L533.3 364.9L542.8 432.5L555.2 422.9L551.7 440.9L554.9 421.5L565.3 440.8L522.7 375.0L508.5 370.1L519.1 399.1L525.5 438.6L551.9 418.2L553.2 410.8L524.3 399.9L543.8 425.5L523.3 354.9L534.2 372.6L539.6 430.1L562.9 437.2L540.4 435.3L525.8 415.0L560.5 429.4L532.5 351.8L525.7 385.2L543.1 385.0L560.5 422.3L516.1 378.7L527.0 342.1L546.9 418.9L537.7 423.4L533.4 363.7L522.7 389.0L552.7 403.2L525.4 408.0L526.6 367.6L550.2 439.3L535.7 467.6L537.5 479.1L537.2 468.9L535.9 451.6L521.0 449.8L523.1 478.0L532.2 451.0L522.0 459.8L520.2 480.7L534.3 468.7L511.9 446.1L521.7 474.9L537.8 463.6L528.1 446.7L534.2 476.6L538.3 481.1L513.4 449.5L535.5 481.3L522.3 475.3L520.9 447.6L515.8 474.2L521.2 473.9L515.3 474.9L510.9 458.4L509.9 471.9L507.3 462.6L532.8 459.8L531.2 479.2L537.9 461.4L533.2 479.6L514.6 478.5L515.5 474.4L529.5 446.6L512.5 451.3L506.2 461.7L508.1 460.9L522.1 472.7L529.0 463.1L533.0 460.0L511.1 456.5L577.4 482.3L578.4 481.5L576.7 480.7L576.4 479.9L574.3 479.0L575.8 478.2L575.9 477.4L575.5 476.6L575.8 475.8L575.1 475.0L575.7 474.2L575.8 473.4L577.4 472.6L577.9 471.8L576.0 470.9L573.4 470.1L572.8 469.3L575.8 468.5L574.1 467.7L574.1 466.9L574.1 466.1L575.2 465.3L571.8 464.5L575.1 463.7L574.1 462.9L573.5 462.0L573.6 461.2L573.4 460.4L573.6 459.6L571.1 458.8L572.6 458.0L569.9 457.2L569.8 456.4L569.4 455.6L569.8 454.8L568.9 453.9L570.2 453.1L569.0 452.3L567.6 451.5L569.7 450.7L566.8 449.9L567.2 449.1L564.9 448.3L566.5 447.5L566.5 446.7L565.1 445.9L567.2 445.0L566.5 444.2L565.9 443.4L564.1 442.6L563.9 441.8L566.3 441.0L562.1 440.2L561.6 439.4L563.8 438.6L561.0 437.8L562.6 436.9L563.5 436.1L564.7 435.3L564.8 434.5L301.1 449.5L323.4 457.1L391.0 476.4L394.6 477.3L399.2 478.5L409.3 480.4L415.7 481.3L405.9 454.1L418.1 460.2L438.6 445.2L446.9 461.1L452.1 455.0L454.2 454.4L464.0 454.4L464.0 470.9L460.6 477.6L468.9 464.8L472.8 456.5L473.5 466.0L477.4 434.5L478.0 452.6L484.1 455.0L489.3 436.7L481.7 464.2L484.1 467.2L487.8 470.9L491.8 467.2L494.8 468.7L492.7 474.9L496.4 476.4L490.3 374.9L499.7 369.3L506.7 369.3L501.8 345.0L502.5 350.6L500.8 395.7L505.3 394.6L469.5 464.1L485.1 468.6L488.6 471.7L493.8 468.3L497.3 476.2L492.0 474.5L502.5 461.7L506.0 454.7L504.2 469.3L509.4 460.6L507.7 474.5L512.9 467.6L514.7 476.2L500.0 480.0L505.0 481.0L510.0 480.5L515.0 481.5L518.0 471.0L520.0 463.0L516.0 456.0L522.0 478.0L511.0 448.0L515.0 440.0L519.0 432.0L513.0 420.0L517.0 408.0L458.0 86.2L436.7 119.8L477.8 163.3L483.0 182.0L503.9 216.1L484.9 242.9L486.8 254.0L511.9 244.3L511.9 257.0L518.2 263.0L516.8 266.0L504.3 269.5L517.7 288.9L511.9 292.4L520.3 299.0L514.2 303.0L520.3 302.5L522.0 305.0L486.7 306.0L502.9 307.8L510.7 307.7L522.0 307.0L509.2 318.5L516.8 318.5L524.4 323.3L529.3 323.3L517.2 325.8L507.0 329.6L519.0 330.3L531.4 331.0L535.6 328.9L512.0 331.0L524.0 333.0L516.0 338.0L528.0 339.0L521.0 343.0L533.0 341.0L510.0 345.0L526.0 347.0L518.0 350.0L536.0 349.0" fill="none" stroke="none" marker-start="url(#m1)" marker-mid="url(#m1)" marker-end="url(#m1)"/>
<defs><marker id="m2" markerWidth="10" markerHeight="10" refX="5" refY="5" markerUnits="userSpaceOnUse" overflow="visible"><circle cx="5" cy="5" r="2.95" fill="#c92b2f" stroke="#ab2e35" stroke-width="0.6"/></marker></defs>
<path d="M677.7 459.5L670.3 467.7L641.1 462.0L691.1 453.7L654.7 465.6L638.6 477.7L689.3 450.5L630.2 479.9L665.3 421.4L661.5 477.7L664.9 430.4L654.2 461.8L671.0 403.5L664.2 430.8L647.0 473.6L648.5 467.6L672.6 457.6L653.3 475.4L681.1 471.9L691.0 467.7L651.5 474.5L666.4 469.2L644.0 461.3L693.2 481.9L643.1 474.1L647.0 464.9L654.3 482.0L682.3 465.1L651.0 459.5L637.7 470.4L669.2 416.6L647.8 440.6L667.3 475.2L665.6 452.6L692.6 446.9L639.1 466.8L642.2 455.9L683.5 462.4L687.3 467.2L674.8 457.5L680.8 435.9L668.5 479.5L648.4 477.1L673.7 409.1L658.7 466.9L686.6 478.9L657.1 452.6L667.0 469.6L646.6 464.0L657.4 469.1L662.2 453.0L647.2 479.5L651.2 473.3L645.9 448.1L631.8 475.9L657.9 421.7L683.0 448.6L688.3 480.5L679.1 445.2L641.1 458.7L669.4 477.0L671.6 466.6L686.9 468.8L666.6 437.5L679.3 475.0L664.2 475.0L655.2 458.5L658.7 451.9L675.9 467.2L681.5 445.1L650.6 467.1L666.3 437.2L650.7 470.7L695.0 465.8L687.4 442.4L699.2 480.5L647.8 453.8L664.8 464.4L650.1 439.0L673.3 474.7L691.0 459.8L647.5 449.6L668.4 473.5L678.6 403.1L664.8 466.2L667.3 433.2L641.8 466.3L631.9 474.8L690.2 463.3L690.8 458.4L642.3 471.4L674.9 405.0L656.8 478.0L641.1 471.9L649.4 469.3L668.4 450.6L673.7 451.1L658.3 468.7L630.4 472.2L665.0 446.5L676.2 435.3L655.7 475.5L666.4 402.8L670.4 401.8L660.7 454.0L670.0 449.6L643.5 479.8L650.9 473.0L670.0 479.2L680.1 446.2L667.3 480.2L657.1 473.3L688.9 463.4L663.7 469.7L696.1 462.5L680.3 411.2L676.3 458.9L654.0 467.4L657.0 479.2L658.1 473.7L630.1 473.5L703.9 480.7L662.5 428.6L671.2 453.1L676.3 468.9L658.7 476.3L680.4 463.3L697.7 477.7L681.3 458.3L633.1 469.8L676.4 466.2L651.0 432.0L664.7 454.8L647.2 464.1L674.3 442.0L688.8 437.0L660.7 477.2L643.6 477.7L678.9 477.6L653.0 454.3L661.4 466.8L646.4 447.3L647.6 448.7L665.0 447.5L679.2 456.5L661.5 479.3L651.6 433.5L655.5 436.1L657.9 446.9L674.0 402.2L686.8 445.7L677.4 421.3L661.7 455.6L677.5 466.5L691.6 459.7L672.9 428.6L677.3 457.7L660.1 446.0L656.3 476.1L644.3 448.5L671.2 442.8L664.3 480.6L640.5 473.3L633.5 481.9L668.9 481.5L663.9 462.4L641.2 473.0L672.3 465.5L646.0 474.0L674.5 447.4L674.5 441.4L673.8 442.2L637.0 478.8L667.9 455.5L637.8 463.0L644.9 479.3L646.6 482.1L645.3 444.3L696.1 465.9L634.6 471.8L690.3 480.2L662.8 409.7L666.6 444.0L640.2 461.0L634.3 467.9L690.4 446.0L666.9 476.0L680.8 469.3L680.4 470.4L654.8 480.3L668.7 413.7L634.7 481.9L666.2 478.5L649.8 476.2L656.5 451.4L675.7 477.4L640.5 479.7L693.6 468.8L670.7 477.0L673.2 456.3L682.0 475.3L656.2 430.6L668.2 472.8L651.9 457.2L674.5 480.0L678.1 480.0L657.5 478.2L656.0 482.1L648.0 472.9L663.8 481.8L670.9 475.6L682.3 464.6L656.3 444.0L637.9 477.4L680.3 450.0L671.2 459.0L661.9 447.9L687.2 454.7L666.6 473.2L666.3 472.8L677.0 482.2L640.0 469.4L676.8 452.5L665.1 458.1L667.8 429.9L662.6 440.6L678.4 475.6L689.7 475.7L673.6 449.6L642.9 479.8L656.2 458.0L655.9 422.2L664.3 457.2L642.8 473.9L650.5 474.6L681.9 478.2L685.8 439.3L682.0 470.9L669.3 481.7L686.7 448.3L679.0 480.7L668.7 404.7L646.1 442.6L676.2 476.6L653.9 479.8L637.2 468.6L684.4 455.9L653.0 478.8L680.3 434.5L661.5 402.9L653.0 461.3L636.2 482.1L633.7 474.3L675.0 444.6L636.1 478.8L666.8 473.8L660.4 455.3L650.8 476.3L661.1 476.2L661.2 436.2L678.5 460.1L647.5 480.0L643.9 473.5L651.6 460.4L665.6 477.2L661.5 426.6L674.6 464.2L656.0 481.8L640.2 468.0L655.4 429.6L655.3 434.3L659.6 475.1L671.0 448.3L670.4 456.6L665.7 465.3L655.8 475.2L702.5 481.3L646.2 441.8L666.8 412.0L669.0 465.2L658.0 469.5L659.6 472.4L666.5 482.2L684.3 465.7L661.6 473.4L668.8 460.3L649.1 447.5L659.2 447.0L676.9 477.4L677.4 478.7L668.2 471.1L685.8 461.0L673.8 443.4L690.4 451.1L665.0 443.6L670.2 439.6L684.3 466.4L650.4 476.8L668.9 464.7L673.9 433.5L664.6 479.9L648.0 479.4L670.1 475.2L657.8 471.8L680.4 468.0L659.6 458.2L678.5 422.0L660.4 472.6L635.2 473.3L680.5 461.6L636.5 471.1L668.8 472.5L684.6 466.4L675.4 474.2L635.5 475.6L665.4 457.3L665.4 429.4L665.2 409.5L646.8 479.9L683.4 456.8L637.5 482.3L651.8 470.5L680.9 441.4L663.8 473.4L693.5 455.1L654.6 470.3L658.1 451.9L646.2 474.1L668.0 452.1L651.9 443.6L635.3 464.1L656.2 479.2L641.3 465.9L667.1 406.0L630.7 476.5L689.4 478.2L676.2 416.1L669.9 412.0L670.4 442.9L668.5 414.7L682.7 430.1L677.6 446.3L650.2 482.1L659.1 434.3L678.2 476.0L657.5 455.6L685.5 469.2L673.9 429.8L672.1 463.6L683.6 477.9L668.9 439.2L679.3 477.7L644.9 457.4L678.9 436.6L661.8 462.0L646.2 475.5L652.5 420.6L673.7 449.5L655.5 468.7L654.6 441.1L662.3 439.1L645.2 469.8L667.4 447.8L659.2 480.4L655.2 466.6L646.5 463.6L700.0 478.5L662.4 469.8L657.9 470.6L671.4 404.7L659.4 457.0L661.2 453.2L651.4 474.7L677.9 467.1L638.7 464.5L694.2 469.3L678.7 462.9L658.7 463.8L668.1 453.4L659.3 474.9L669.2 445.8L643.6 464.2L691.5 470.1L668.3 462.1L670.8 472.4L660.3 459.5L689.3 447.0L670.3 475.8L668.4 420.8L663.3 464.1L666.9 436.7L689.8 462.3L665.2 436.7L653.5 470.9L682.9 452.1L675.4 425.9L652.5 454.3L652.0 455.7L685.0 473.9L655.8 456.2L684.4 468.1L682.4 417.6L676.0 475.8L674.2 471.4L670.8 462.7L676.2 444.0L639.7 466.1L697.7 466.9L661.0 473.6L676.8 478.0L639.5 470.8L660.4 418.8L657.2 412.4L651.7 463.0L689.4 435.8L649.4 470.5L654.8 470.8L661.2 473.0L668.3 477.1L649.3 460.6L667.0 409.3L646.0 468.7L663.4 462.1L678.2 478.7L669.2 433.2L655.9 454.3L674.7 430.4L669.3 436.0L640.4 468.7L659.0 423.8L656.0 444.1L659.2 464.3L652.9 446.0L660.3 475.4L645.4 464.4L630.4 473.4L667.1 456.6L640.1 470.0L684.9 479.4L646.8 448.0L664.1 475.7L663.4 442.5L671.4 452.5L664.2 409.3L665.5 474.8L681.9 478.6L676.2 480.6L664.0 428.1L677.2 461.0L660.7 466.3L699.7 473.1L659.9 456.3L655.4 459.0L661.7 437.4L657.2 462.2L650.8 462.8L657.9 467.3L635.8 481.6L670.3 422.3L647.2 473.5L681.0 417.6L655.9 452.6L671.7 464.2L667.9 434.6L673.6 429.5L655.8 468.9L664.3 463.0L638.3 455.0L681.9 449.8L688.4 446.4L669.7 479.4L684.5 478.2L647.2 455.3L664.8 432.5L673.2 482.0L648.4 450.0L645.4 455.5L637.0 475.1L645.0 470.3L653.6 455.5L671.5 437.3L647.1 467.3L672.6 458.2L660.5 452.9L690.4 465.9L656.6 458.7L657.6 461.9L646.8 443.2L631.2 481.3L634.3 468.2L648.9 479.7L652.1 475.1L682.1 481.9L684.0 449.9L648.1 471.6L663.3 468.8L665.3 421.4L666.9 471.3L693.7 470.1L678.3 449.8L683.2 481.1L660.8 468.9L669.6 444.8L681.7 446.6L648.0 481.9L663.1 470.8L660.9 473.6L674.4 426.1L650.4 452.7L661.8 435.0L656.6 418.5L669.5 466.0L690.1 480.7L643.0 473.6L666.7 411.2L673.5 470.6L664.0 404.8L663.8 409.7L645.8 481.3L663.1 426.5L652.9 481.0L649.5 444.3L652.6 476.2L630.2 476.4L652.7 462.7L658.3 466.5L676.8 474.8L676.1 444.8L662.5 472.0L658.7 441.2L663.6 405.4L683.0 463.8L664.5 434.3L675.7 469.1L658.7 449.5L657.6 472.1L635.1 470.7L655.0 478.7L654.7 475.5L681.0 465.4L663.3 457.1L640.3 463.5L637.2 467.0L652.1 437.7L674.6 473.2L645.8 450.7L639.8 481.3L640.9 477.4L677.6 433.9L632.7 477.2L654.0 465.4L672.1 456.7L672.3 450.6L652.2 439.9L652.3 476.7L637.7 481.7L638.7 474.2L658.0 437.6L646.7 461.2L683.1 454.0L637.9 478.1L694.6 460.0L651.3 467.3L639.7 479.4L685.5 477.3L653.6 455.4L645.5 462.1L645.5 457.2L695.5 479.6L673.6 462.7L630.2 476.0L698.9 463.3L635.8 462.2L642.3 453.1L674.9 480.6L667.1 474.3L630.6 479.4L645.2 472.3L641.5 464.6L659.2 453.1L661.0 464.8L663.9 477.4L681.5 466.4L675.0 477.7L670.9 474.7L683.2 455.9L671.5 432.1L643.6 475.0L647.2 463.3L641.3 477.6L675.7 474.6L665.5 479.4L664.3 463.5L668.0 398.3L639.0 463.5L652.9 452.4L694.9 461.8L664.7 450.0L689.1 481.6L655.5 479.3L670.0 394.8L634.5 481.1L700.3 472.5L652.4 467.6L680.1 477.8L633.0 471.2L684.5 442.8L668.8 461.9L692.1 481.8L641.1 465.8L688.5 477.2L651.3 451.0L679.4 454.4L649.7 453.6L671.3 470.3L639.4 480.8L670.6 438.0L647.6 437.3L675.7 480.6L643.6 467.3L649.0 470.8L664.7 428.5L665.1 451.9L641.7 472.6L648.8 440.9L681.7 479.0L675.4 475.3L650.6 430.5L646.6 452.2L670.2 456.4L659.7 405.7L634.8 477.3L678.2 435.4L661.5 455.6L658.1 428.6L643.8 469.0L672.5 454.9L660.2 455.1L650.5 477.3L648.6 442.9L654.4 430.6L702.3 476.3L671.1 440.4L672.6 466.8L650.1 478.6L645.3 466.1L646.6 473.9L635.1 474.3L657.0 420.7L632.3 482.0L660.2 473.6L643.3 451.2L664.5 473.4L635.9 468.5L690.2 480.8L662.0 459.3L643.8 473.8L647.9 473.0L665.9 417.1L665.8 474.4L631.6 472.9L665.3 469.8L664.3 420.7L635.9 473.4L668.7 470.1L668.6 415.9L657.0 462.2L671.9 407.9L653.7 468.0L676.7 470.6L673.7 454.4L678.1 482.1L690.7 449.0L650.2 457.6L688.6 476.0L667.3 471.3L706.9 481.1L649.0 464.6L677.6 481.9L698.7 469.3L658.6 458.2L687.6 477.2L644.6 462.8L663.9 475.4L675.2 409.8L666.9 411.5L672.2 480.7L688.9 475.1L674.5 465.5L678.1 417.6L649.6 481.6L647.5 478.7L669.0 439.7L666.5 447.2L696.4 476.5L671.8 476.7L665.7 454.9L665.1 414.6L654.2 419.1L650.0 475.9L699.1 368.5L680.6 360.4L658.7 424.6L673.4 382.1L673.7 399.7L687.6 378.2L662.3 412.4L680.0 423.0L713.4 334.2L698.1 363.6L711.9 347.6L674.4 419.3L700.6 345.8L691.8 353.3L689.6 381.1L697.6 328.3L673.5 419.6L690.1 380.3L664.0 402.1L677.4 413.8L662.2 407.1L692.1 340.8L661.1 426.3L680.0 375.4L662.7 419.4L703.9 330.8L660.7 416.3L691.3 344.1L679.4 396.5L683.8 358.7L670.7 380.3L668.0 409.8L676.8 366.7L691.6 338.6L691.8 331.8L681.1 360.1L684.5 398.6L693.6 373.7L665.7 424.2L683.1 402.8L687.3 355.6L726.3 332.2L686.3 366.7L680.0 383.6L690.1 379.8L688.9 377.8L697.8 407.4L684.4 424.5L716.7 338.0L687.8 344.9L662.0 412.0L662.2 412.9L656.3 418.8L673.1 392.5L672.7 384.2L689.9 392.6L706.6 325.2L680.6 358.9L689.6 365.1L691.6 343.5L681.9 419.0L696.8 372.6L658.4 418.6L660.5 416.9L717.0 327.1L703.8 366.1L674.2 420.6L678.6 398.4L709.7 354.5L698.5 343.7L680.5 417.3L670.5 409.1L679.1 393.7L690.5 345.9L676.7 372.3L673.1 424.2L704.6 347.4L671.0 392.5L677.8 403.1L670.9 385.8L657.8 419.9L672.9 424.8L681.2 410.2L705.6 392.4L680.7 393.0L710.2 353.1L671.9 408.1L679.5 397.8L670.6 419.8L657.7 421.3L674.1 389.7L688.1 357.4L681.3 404.1L684.0 399.7L693.3 403.1L677.7 379.3L672.8 410.0L709.4 377.5L708.0 345.2L698.9 327.9L680.6 396.1L671.6 424.1L704.7 334.1L656.8 413.3L702.8 370.2L714.2 348.9L694.1 342.1L690.7 356.9L676.1 415.7L684.0 351.9L667.5 417.7L689.1 410.1L686.6 407.7L715.8 331.2L661.1 410.9L688.8 419.6L674.9 381.0L672.7 415.3L674.7 372.1L677.6 382.5L690.7 406.7L674.1 405.6L684.0 400.3L688.8 419.4L674.5 404.7L670.5 390.9L667.8 423.3L694.1 357.8L689.7 373.6L691.9 347.0L675.6 402.3L656.6 420.0L678.8 369.1L698.2 355.5L675.6 413.5L701.1 354.2L674.8 379.4L674.3 372.3L680.0 375.8L669.7 406.3L725.2 479.9L730.2 470.0L708.0 453.8L712.9 471.7L703.6 477.9L734.0 466.6L714.8 462.5L705.1 478.7L730.9 460.6L711.1 449.1L710.3 468.6L727.8 449.7L710.0 442.7L708.0 475.2L717.6 463.7L718.5 467.8L727.5 475.7L714.8 458.5L732.1 475.6L712.2 467.7L709.6 465.9L734.1 476.3L729.6 447.7L716.7 472.3L705.7 464.3L730.2 471.1L709.2 450.9L706.6 463.7L635.3 482.3L633.7 481.6L632.3 480.9L634.2 480.2L632.6 479.5L634.7 478.8L635.5 478.0L635.5 477.3L635.3 476.6L631.2 475.9L632.1 475.2L634.7 474.5L634.5 473.8L636.1 473.1L633.2 472.4L630.9 471.7L631.3 471.0L631.4 470.3L634.9 469.6L633.8 468.9L632.3 468.2L638.1 467.5L633.1 466.8L635.2 466.1L638.2 465.4L637.9 464.6L635.3 463.9L640.3 463.2L637.3 462.5L640.0 461.8L637.8 461.1L639.5 460.4L641.8 459.7L636.4 459.0L639.9 458.3L640.4 457.6L643.1 456.9L641.0 456.2L639.2 455.5L638.7 454.8L641.7 454.1L639.5 453.4L641.0 452.7L645.1 452.0L640.5 451.2L641.0 450.5L644.2 449.8L643.5 449.1L646.3 448.4L643.0 447.7L646.0 447.0L644.1 446.3L648.1 445.6L647.9 444.9L643.6 444.2L645.1 443.5L646.0 442.8L646.3 442.1L647.4 441.4L648.3 440.7L645.2 440.0L648.7 439.3L650.1 438.6L647.8 437.8L647.2 437.1L647.4 436.4L649.9 435.7L647.1 435.0L648.0 434.3L648.9 433.6L651.6 432.9L652.3 432.2L651.3 431.5L649.1 430.8L650.7 430.1L649.2 429.4L655.4 428.7L652.3 428.0L655.0 427.3L651.6 426.6L793.5 351.6L796.9 367.9L759.4 368.6L760.5 380.1L778.5 381.5L750.7 399.2L764.3 399.2L773.7 414.8L754.2 424.2L748.7 421.4L744.1 429.4L775.1 433.9L757.0 438.8L765.0 444.7L743.5 444.0L786.5 468.7L763.3 473.2L766.7 473.5L751.4 468.3L742.4 463.5L733.7 463.5L737.2 452.7L732.0 453.7L814.3 478.7L837.9 473.9L849.4 470.4L858.4 468.3L862.9 465.9L873.4 463.5L876.1 462.4L881.3 460.7L886.2 461.4L895.9 454.8L732.0 337.4L723.3 390.5L732.0 395.4L728.5 405.1L732.0 410.3L725.0 417.3L725.0 430.1L728.5 440.9L721.6 441.6L725.0 446.8L730.3 460.7L721.6 469.4L730.3 472.8L732.0 479.8L719.8 476.3L714.6 472.8L675.7 340.8L665.3 359.9L663.9 370.7L675.0 360.6L691.4 329.4L702.5 326.9L685.1 341.5L693.8 343.6L704.2 340.8L712.9 337.4L714.6 346.1L711.1 353.0L701.4 356.5L683.4 357.5L684.8 349.2L711.1 358.2L718.8 366.2L724.3 370.7L717.4 372.8L711.1 373.8L704.2 375.6L711.8 379.7L707.7 386.0L713.9 393.6L704.2 394.7L718.1 406.8L707.7 412.0L712.9 413.8L711.1 419.0L704.2 422.5L711.1 427.7L712.9 430.5L704.2 436.4L714.6 446.8L718.1 445.7L732.5 55.6L795.9 112.8L726.5 168.5L733.2 168.5L750.4 168.5L759.8 193.7L726.7 202.2L710.5 238.7L729.9 238.7L722.1 242.5L707.8 247.6L719.7 250.1L701.0 267.6L695.4 279.7L697.5 279.0L725.8 289.4L701.0 304.0L707.6 307.6L710.0 310.0L715.8 305.9L742.8 318.3L702.7 326.8L691.8 329.0L732.1 338.0L706.0 333.0L714.0 336.0L692.0 337.0L700.0 341.0L686.0 343.0L712.0 343.0L676.0 341.0L682.0 335.0" fill="none" stroke="none" marker-start="url(#m2)" marker-mid="url(#m2)" marker-end="url(#m2)"/>
<line x1="579.1" y1="33.5" x2="579.1" y2="520.5" stroke="#000" stroke-width="1.8" stroke-dasharray="6.66 2.88" stroke-dashoffset="3.5"/>
<line x1="629.9" y1="33.5" x2="629.9" y2="520.5" stroke="#000" stroke-width="1.8" stroke-dasharray="6.66 2.88" stroke-dashoffset="3.5"/>
<line x1="271.5" y1="482.3" x2="925.5" y2="482.3" stroke="#000" stroke-width="1.8" stroke-dasharray="6.55 2.83"/>
<line x1="478.6" y1="76.9" x2="460.0" y2="85.3" stroke="#000" stroke-width="1.15"/>
<line x1="456.5" y1="120.4" x2="438.9" y2="119.9" stroke="#000" stroke-width="1.15"/>
<line x1="498.1" y1="154.5" x2="479.8" y2="162.4" stroke="#000" stroke-width="1.15"/>
<line x1="495.0" y1="172.7" x2="484.7" y2="180.7" stroke="#000" stroke-width="1.15"/>
<line x1="516.9" y1="205.2" x2="505.6" y2="214.7" stroke="#000" stroke-width="1.15"/>
<line x1="477.7" y1="226.1" x2="484.0" y2="240.9" stroke="#000" stroke-width="1.15"/>
<line x1="464.7" y1="244.3" x2="484.8" y2="253.1" stroke="#000" stroke-width="1.15"/>
<line x1="524.6" y1="241.7" x2="514.4" y2="254.8" stroke="#000" stroke-width="1.15"/>
<line x1="578.4" y1="230.4" x2="514.1" y2="243.8" stroke="#000" stroke-width="1.15"/>
<line x1="530.7" y1="255.6" x2="520.4" y2="261.9" stroke="#000" stroke-width="1.15"/>
<line x1="578.4" y1="252.1" x2="521.6" y2="263.9" stroke="#000" stroke-width="1.15"/>
<line x1="496.0" y1="264.3" x2="502.4" y2="268.3" stroke="#000" stroke-width="1.15"/>
<line x1="534.2" y1="271.2" x2="521.3" y2="297.0" stroke="#000" stroke-width="1.15"/>
<line x1="570.6" y1="274.7" x2="515.4" y2="291.4" stroke="#000" stroke-width="1.15"/>
<line x1="532.4" y1="289.4" x2="516.9" y2="300.3" stroke="#000" stroke-width="1.15"/>
<line x1="570.6" y1="286.8" x2="518.9" y2="301.0" stroke="#000" stroke-width="1.15"/>
<line x1="541.1" y1="307.4" x2="510.0" y2="307.8" stroke="#000" stroke-width="1.15"/>
<line x1="628.6" y1="302.8" x2="505.1" y2="307.7" stroke="#000" stroke-width="1.15"/>
<line x1="602.2" y1="315.7" x2="511.4" y2="318.4" stroke="#000" stroke-width="1.15"/>
<line x1="545.3" y1="319.4" x2="518.3" y2="318.8" stroke="#000" stroke-width="1.15"/>
<line x1="505.0" y1="332.4" x2="513.5" y2="327.8" stroke="#000" stroke-width="1.15"/>
<line x1="550.8" y1="346.9" x2="527.4" y2="325.5" stroke="#000" stroke-width="1.15"/>
<line x1="733.5" y1="160.0" x2="727.9" y2="166.8" stroke="#000" stroke-width="1.15"/>
<line x1="735.5" y1="160.0" x2="733.9" y2="166.4" stroke="#000" stroke-width="1.15"/>
<line x1="775.0" y1="159.5" x2="752.5" y2="167.7" stroke="#000" stroke-width="1.15"/>
<line x1="782.0" y1="192.5" x2="762.0" y2="193.6" stroke="#000" stroke-width="1.15"/>
<line x1="716.8" y1="228.2" x2="711.6" y2="236.8" stroke="#000" stroke-width="1.15"/>
<line x1="756.9" y1="227.5" x2="731.9" y2="237.9" stroke="#000" stroke-width="1.15"/>
<line x1="681.6" y1="235.0" x2="705.8" y2="246.6" stroke="#000" stroke-width="1.15"/>
<line x1="743.5" y1="242.1" x2="724.3" y2="242.5" stroke="#000" stroke-width="1.15"/>
<line x1="709.5" y1="252.5" x2="702.1" y2="265.7" stroke="#000" stroke-width="1.15"/>
<line x1="771.5" y1="255.4" x2="721.9" y2="250.3" stroke="#000" stroke-width="1.15"/>
<line x1="724.1" y1="267.6" x2="697.4" y2="278.8" stroke="#000" stroke-width="1.15"/>
<line x1="748.4" y1="281.7" x2="727.9" y2="288.7" stroke="#000" stroke-width="1.15"/>
<line x1="704.7" y1="298.7" x2="702.3" y2="302.2" stroke="#000" stroke-width="1.15"/>
<line x1="742.3" y1="296.7" x2="717.9" y2="305.2" stroke="#000" stroke-width="1.15"/>
<line x1="694.9" y1="309.6" x2="705.4" y2="307.9" stroke="#000" stroke-width="1.15"/>
<line x1="760.5" y1="314.9" x2="745.0" y2="317.9" stroke="#000" stroke-width="1.15"/>
<line x1="730.2" y1="330.2" x2="704.9" y2="327.1" stroke="#000" stroke-width="1.15"/>
<text x="460.4" y="78.2" font-family="'DejaVu Sans', 'Liberation Sans', sans-serif" font-size="11.4" text-anchor="start" fill="#000" stroke="#000" stroke-width="0.22" >Dnase1</text>
<text x="439.5" y="124.5" font-family="'DejaVu Sans', 'Liberation Sans', sans-serif" font-size="11.4" text-anchor="start" fill="#000" stroke="#000" stroke-width="0.22" >Cyp2d12</text>
<text x="479.9" y="155.0" font-family="'DejaVu Sans', 'Liberation Sans', sans-serif" font-size="11.4" text-anchor="start" fill="#000" stroke="#000" stroke-width="0.22" >Slc7a13</text>
<text x="485.1" y="173.2" font-family="'DejaVu Sans', 'Liberation Sans', sans-serif" font-size="11.4" text-anchor="start" fill="#000" stroke="#000" stroke-width="0.22" >Inmt</text>
<text x="502.8" y="205.9" font-family="'DejaVu Sans', 'Liberation Sans', sans-serif" font-size="11.4" text-anchor="start" fill="#000" stroke="#000" stroke-width="0.22" >Acss2</text>
<text x="446.5" y="226.1" font-family="'DejaVu Sans', 'Liberation Sans', sans-serif" font-size="11.4" text-anchor="start" fill="#000" stroke="#000" stroke-width="0.22" >Cyp4a12a</text>
<text x="436.6" y="245.5" font-family="'DejaVu Sans', 'Liberation Sans', sans-serif" font-size="11.4" text-anchor="start" fill="#000" stroke="#000" stroke-width="0.22" >C1qtnf3</text>
<text x="503.8" y="241.7" font-family="'DejaVu Sans', 'Liberation Sans', sans-serif" font-size="11.4" text-anchor="start" fill="#000" stroke="#000" stroke-width="0.22" >Slc27a2</text>
<text x="561.9" y="231.8" font-family="'DejaVu Sans', 'Liberation Sans', sans-serif" font-size="11.4" text-anchor="start" fill="#000" stroke="#000" stroke-width="0.22" >Pm20d1</text>
<text x="515.1" y="255.6" font-family="'DejaVu Sans', 'Liberation Sans', sans-serif" font-size="11.4" text-anchor="start" fill="#000" stroke="#000" stroke-width="0.22" >Acsm1</text>
<text x="558.5" y="253.3" font-family="'DejaVu Sans', 'Liberation Sans', sans-serif" font-size="11.4" text-anchor="start" fill="#000" stroke="#000" stroke-width="0.22" >Tmem174</text>
<text x="473.1" y="264.8" font-family="'DejaVu Sans', 'Liberation Sans', sans-serif" font-size="11.4" text-anchor="start" fill="#000" stroke="#000" stroke-width="0.22" >Acsm5</text>
<text x="520.6" y="271.2" font-family="'DejaVu Sans', 'Liberation Sans', sans-serif" font-size="11.4" text-anchor="start" fill="#000" stroke="#000" stroke-width="0.22" >Pipox</text>
<text x="490.2" y="282.8" font-family="'DejaVu Sans', 'Liberation Sans', sans-serif" font-size="11.4" text-anchor="start" fill="#000" stroke="#000" stroke-width="0.22" >Eci3</text>
<text x="554.7" y="275.2" font-family="'DejaVu Sans', 'Liberation Sans', sans-serif" font-size="11.4" text-anchor="start" fill="#000" stroke="#000" stroke-width="0.22" >Cyp4b1</text>
<text x="522.9" y="291.7" font-family="'DejaVu Sans', 'Liberation Sans', sans-serif" font-size="11.4" text-anchor="start" fill="#000" stroke="#000" stroke-width="0.22" >Cutal</text>
<text x="553.3" y="287.7" font-family="'DejaVu Sans', 'Liberation Sans', sans-serif" font-size="11.4" text-anchor="start" fill="#000" stroke="#000" stroke-width="0.22" >Slc22a4</text>
<text x="448.8" y="301.4" font-family="'DejaVu Sans', 'Liberation Sans', sans-serif" font-size="11.4" text-anchor="start" fill="#000" stroke="#000" stroke-width="0.22" >Cndp1</text>
<text x="494.6" y="301.8" font-family="'DejaVu Sans', 'Liberation Sans', sans-serif" font-size="11.4" text-anchor="start" fill="#000" stroke="#000" stroke-width="0.22" >Egf</text>
<text x="523.8" y="310.6" font-family="'DejaVu Sans', 'Liberation Sans', sans-serif" font-size="11.4" text-anchor="start" fill="#000" stroke="#000" stroke-width="0.22" >Slc22a22</text>
<text x="611.3" y="305.6" font-family="'DejaVu Sans', 'Liberation Sans', sans-serif" font-size="11.4" text-anchor="start" fill="#000" stroke="#000" stroke-width="0.22" >Slc22a18</text>
<text x="586.3" y="318.5" font-family="'DejaVu Sans', 'Liberation Sans', sans-serif" font-size="11.4" text-anchor="start" fill="#000" stroke="#000" stroke-width="0.22" >Cyp2e1</text>
<text x="530.7" y="322.2" font-family="'DejaVu Sans', 'Liberation Sans', sans-serif" font-size="11.4" text-anchor="start" fill="#000" stroke="#000" stroke-width="0.22" >Ugt3a1</text>
<text x="477.6" y="324.7" font-family="'DejaVu Sans', 'Liberation Sans', sans-serif" font-size="11.4" text-anchor="start" fill="#000" stroke="#000" stroke-width="0.22" >Upb1</text>
<text x="479.7" y="340.0" font-family="'DejaVu Sans', 'Liberation Sans', sans-serif" font-size="11.4" text-anchor="start" fill="#000" stroke="#000" stroke-width="0.22" >Cyp2j5</text>
<text x="521.7" y="339.3" font-family="'DejaVu Sans', 'Liberation Sans', sans-serif" font-size="11.4" text-anchor="start" fill="#000" stroke="#000" stroke-width="0.22" >Selenbp1</text>
<text x="536.3" y="350.4" font-family="'DejaVu Sans', 'Liberation Sans', sans-serif" font-size="11.4" text-anchor="start" fill="#000" stroke="#000" stroke-width="0.22" >Aldob</text>
<text x="735.0" y="53.8" font-family="'DejaVu Sans', 'Liberation Sans', sans-serif" font-size="11.4" text-anchor="start" fill="#000" stroke="#000" stroke-width="0.22" >Cdkn1a</text>
<text x="798.4" y="110.6" font-family="'DejaVu Sans', 'Liberation Sans', sans-serif" font-size="11.4" text-anchor="start" fill="#000" stroke="#000" stroke-width="0.22" >Serpine1</text>
<text x="718.3" y="159.8" font-family="'DejaVu Sans', 'Liberation Sans', sans-serif" font-size="11.4" text-anchor="start" fill="#000" stroke="#000" stroke-width="0.22" >Tk1</text>
<text x="725.7" y="159.8" font-family="'DejaVu Sans', 'Liberation Sans', sans-serif" font-size="11.4" text-anchor="start" fill="#000" stroke="#000" stroke-width="0.22" >Klf4</text>
<text x="731.1" y="159.8" font-family="'DejaVu Sans', 'Liberation Sans', sans-serif" font-size="11.4" text-anchor="start" fill="#000" stroke="#000" stroke-width="0.22" >Klf2</text>
<text x="758.9" y="159.8" font-family="'DejaVu Sans', 'Liberation Sans', sans-serif" font-size="11.4" text-anchor="start" fill="#000" stroke="#000" stroke-width="0.22" >S100a4</text>
<text x="768.4" y="194.0" font-family="'DejaVu Sans', 'Liberation Sans', sans-serif" font-size="11.4" text-anchor="start" fill="#000" stroke="#000" stroke-width="0.22" >Apold1</text>
<text x="726.0" y="201.5" font-family="'DejaVu Sans', 'Liberation Sans', sans-serif" font-size="11.4" text-anchor="start" fill="#000" stroke="#000" stroke-width="0.22" >Mki67</text>
<text x="701.0" y="228.7" font-family="'DejaVu Sans', 'Liberation Sans', sans-serif" font-size="11.4" text-anchor="start" fill="#000" stroke="#000" stroke-width="0.22" >Fabp4</text>
<text x="739.9" y="228.7" font-family="'DejaVu Sans', 'Liberation Sans', sans-serif" font-size="11.4" text-anchor="start" fill="#000" stroke="#000" stroke-width="0.22" >S100a6</text>
<text x="663.4" y="236.7" font-family="'DejaVu Sans', 'Liberation Sans', sans-serif" font-size="11.4" text-anchor="start" fill="#000" stroke="#000" stroke-width="0.22" >Crip1</text>
<text x="731.4" y="245.2" font-family="'DejaVu Sans', 'Liberation Sans', sans-serif" font-size="11.4" text-anchor="start" fill="#000" stroke="#000" stroke-width="0.22" >Hspb1</text>
<text x="697.9" y="252.5" font-family="'DejaVu Sans', 'Liberation Sans', sans-serif" font-size="11.4" text-anchor="start" fill="#000" stroke="#000" stroke-width="0.22" >Pkn3</text>
<text x="761.2" y="259.3" font-family="'DejaVu Sans', 'Liberation Sans', sans-serif" font-size="11.4" text-anchor="start" fill="#000" stroke="#000" stroke-width="0.22" >Nr4a1</text>
<text x="703.4" y="268.8" font-family="'DejaVu Sans', 'Liberation Sans', sans-serif" font-size="11.4" text-anchor="start" fill="#000" stroke="#000" stroke-width="0.22" >S100a10</text>
<text x="698.6" y="284.1" font-family="'DejaVu Sans', 'Liberation Sans', sans-serif" font-size="11.4" text-anchor="start" fill="#000" stroke="#000" stroke-width="0.22" >Nos3</text>
<text x="733.8" y="283.6" font-family="'DejaVu Sans', 'Liberation Sans', sans-serif" font-size="11.4" text-anchor="start" fill="#000" stroke="#000" stroke-width="0.22" >Ankrd1</text>
<text x="691.3" y="299.4" font-family="'DejaVu Sans', 'Liberation Sans', sans-serif" font-size="11.4" text-anchor="start" fill="#000" stroke="#000" stroke-width="0.22" >Cxcl1</text>
<text x="730.2" y="297.9" font-family="'DejaVu Sans', 'Liberation Sans', sans-serif" font-size="11.4" text-anchor="start" fill="#000" stroke="#000" stroke-width="0.22" >Ctla2a</text>
<text x="678.4" y="314.4" font-family="'DejaVu Sans', 'Liberation Sans', sans-serif" font-size="11.4" text-anchor="start" fill="#000" stroke="#000" stroke-width="0.22" >Mn1</text>
<text x="711.2" y="316.1" font-family="'DejaVu Sans', 'Liberation Sans', sans-serif" font-size="11.4" text-anchor="start" fill="#000" stroke="#000" stroke-width="0.22" >Emp1</text>
<text x="752.0" y="316.1" font-family="'DejaVu Sans', 'Liberation Sans', sans-serif" font-size="11.4" text-anchor="start" fill="#000" stroke="#000" stroke-width="0.22" >Itgb3</text>
<text x="721.2" y="333.9" font-family="'DejaVu Sans', 'Liberation Sans', sans-serif" font-size="11.4" text-anchor="start" fill="#000" stroke="#000" stroke-width="0.22" >Ltbp1</text>
<text x="686.4" y="338.7" font-family="'DejaVu Sans', 'Liberation Sans', sans-serif" font-size="11.4" text-anchor="start" fill="#000" stroke="#000" stroke-width="0.22" >Fosl2</text>
<rect x="271.5" y="33.5" width="654.0" height="487.0" fill="none" stroke="#111" stroke-width="1.05"/>
<line x1="350.3" y1="520.5" x2="350.3" y2="524.5" stroke="#000" stroke-width="0.9"/>
<text x="350.3" y="537.3" font-family="'DejaVu Sans', 'Liberation Sans', sans-serif" font-size="11.6" text-anchor="middle" fill="#000" stroke="#000" stroke-width="0.22" >−10</text>
<line x1="477.4" y1="520.5" x2="477.4" y2="524.5" stroke="#000" stroke-width="0.9"/>
<text x="477.4" y="537.3" font-family="'DejaVu Sans', 'Liberation Sans', sans-serif" font-size="11.6" text-anchor="middle" fill="#000" stroke="#000" stroke-width="0.22" >−5</text>
<line x1="604.5" y1="520.5" x2="604.5" y2="524.5" stroke="#000" stroke-width="0.9"/>
<text x="604.5" y="537.3" font-family="'DejaVu Sans', 'Liberation Sans', sans-serif" font-size="11.6" text-anchor="middle" fill="#000" stroke="#000" stroke-width="0.22" >0</text>
<line x1="731.6" y1="520.5" x2="731.6" y2="524.5" stroke="#000" stroke-width="0.9"/>
<text x="731.6" y="537.3" font-family="'DejaVu Sans', 'Liberation Sans', sans-serif" font-size="11.6" text-anchor="middle" fill="#000" stroke="#000" stroke-width="0.22" >5</text>
<line x1="858.7" y1="520.5" x2="858.7" y2="524.5" stroke="#000" stroke-width="0.9"/>
<text x="858.7" y="537.3" font-family="'DejaVu Sans', 'Liberation Sans', sans-serif" font-size="11.6" text-anchor="middle" fill="#000" stroke="#000" stroke-width="0.22" >10</text>
<line x1="267.5" y1="498.2" x2="271.5" y2="498.2" stroke="#000" stroke-width="0.9"/>
<text x="263.2" y="502.5" font-family="'DejaVu Sans', 'Liberation Sans', sans-serif" font-size="11.7" text-anchor="end" fill="#000" stroke="#000" stroke-width="0.22" >0</text>
<line x1="267.5" y1="418.6" x2="271.5" y2="418.6" stroke="#000" stroke-width="0.9"/>
<text x="263.2" y="422.9" font-family="'DejaVu Sans', 'Liberation Sans', sans-serif" font-size="11.7" text-anchor="end" fill="#000" stroke="#000" stroke-width="0.22" >10</text>
<line x1="267.5" y1="339.0" x2="271.5" y2="339.0" stroke="#000" stroke-width="0.9"/>
<text x="263.2" y="343.3" font-family="'DejaVu Sans', 'Liberation Sans', sans-serif" font-size="11.7" text-anchor="end" fill="#000" stroke="#000" stroke-width="0.22" >20</text>
<line x1="267.5" y1="259.4" x2="271.5" y2="259.4" stroke="#000" stroke-width="0.9"/>
<text x="263.2" y="263.7" font-family="'DejaVu Sans', 'Liberation Sans', sans-serif" font-size="11.7" text-anchor="end" fill="#000" stroke="#000" stroke-width="0.22" >30</text>
<line x1="267.5" y1="179.8" x2="271.5" y2="179.8" stroke="#000" stroke-width="0.9"/>
<text x="263.2" y="184.1" font-family="'DejaVu Sans', 'Liberation Sans', sans-serif" font-size="11.7" text-anchor="end" fill="#000" stroke="#000" stroke-width="0.22" >40</text>
<line x1="267.5" y1="100.2" x2="271.5" y2="100.2" stroke="#000" stroke-width="0.9"/>
<text x="263.2" y="104.5" font-family="'DejaVu Sans', 'Liberation Sans', sans-serif" font-size="11.7" text-anchor="end" fill="#000" stroke="#000" stroke-width="0.22" >50</text>
<text x="503.1" y="565.6" font-family="'Liberation Sans', sans-serif" font-size="24.8" stroke="#000" stroke-width="0.35">log<tspan font-size="13" dy="0.6">2</tspan><tspan dy="-0.6"> fold change</tspan></text>
<text transform="translate(226.5,269.6) rotate(-90)" text-anchor="middle" font-family="'Liberation Sans', sans-serif" font-size="25" stroke="#000" stroke-width="0.35">-log<tspan font-size="13" dy="0.6">10</tspan><tspan dy="-0.6">(adjusted p-value)</tspan></text>
</g>
<g id="panel-c">
<text x="955.6" y="39.3" font-family="'Liberation Sans', sans-serif" font-size="55" text-anchor="start" fill="#000" stroke="#000" stroke-width="0.4" >c</text>
<defs><linearGradient id="cw" x1="0" x2="1" y1="0" y2="0">
<stop offset="0" stop-color="#454e94"/>
<stop offset="0.12" stop-color="#5b6fae"/>
<stop offset="0.25" stop-color="#8399c7"/>
<stop offset="0.37" stop-color="#b0c2dc"/>
<stop offset="0.46" stop-color="#cfd9e3"/>
<stop offset="0.52" stop-color="#dcd8d4"/>
<stop offset="0.6" stop-color="#e6c6b6"/>
<stop offset="0.7" stop-color="#e5a892"/>
<stop offset="0.8" stop-color="#db816d"/>
<stop offset="0.9" stop-color="#c8504c"/>
<stop offset="1" stop-color="#a8232f"/>
</linearGradient></defs>
<rect x="1036.9" y="288.5" width="79" height="185.5" fill="#474d92"/>
<line x1="1076.4" y1="494.0" x2="1076.4" y2="497.5" stroke="#000" stroke-width="0.8"/>
<text transform="translate(1083.0,509.6) rotate(-90)" text-anchor="end" font-family="'Liberation Sans', sans-serif" font-size="24.8" stroke="#000" stroke-width="0.35">Hnf1a</text>
<rect x="1135.7" y="108.7" width="79" height="179.8" fill="#c4514c"/>
<line x1="1175.2" y1="494.0" x2="1175.2" y2="497.5" stroke="#000" stroke-width="0.8"/>
<text transform="translate(1181.8,509.6) rotate(-90)" text-anchor="end" font-family="'Liberation Sans', sans-serif" font-size="24.8" stroke="#000" stroke-width="0.35">Stat3</text>
<rect x="1234.4" y="89.5" width="79" height="199.0" fill="#b83b3c"/>
<line x1="1273.9" y1="494.0" x2="1273.9" y2="497.5" stroke="#000" stroke-width="0.8"/>
<text transform="translate(1280.5,509.6) rotate(-90)" text-anchor="end" font-family="'Liberation Sans', sans-serif" font-size="24.8" stroke="#000" stroke-width="0.35">Rela</text>
<rect x="1333.2" y="75.2" width="79" height="213.3" fill="#b02c37"/>
<line x1="1372.7" y1="494.0" x2="1372.7" y2="497.5" stroke="#000" stroke-width="0.8"/>
<text transform="translate(1379.2,509.6) rotate(-90)" text-anchor="end" font-family="'Liberation Sans', sans-serif" font-size="24.8" stroke="#000" stroke-width="0.35">Ets1</text>
<rect x="1431.9" y="59.6" width="79" height="228.9" fill="#a32631"/>
<line x1="1471.4" y1="494.0" x2="1471.4" y2="497.5" stroke="#000" stroke-width="0.8"/>
<text transform="translate(1478.0,509.6) rotate(-90)" text-anchor="end" font-family="'Liberation Sans', sans-serif" font-size="24.8" stroke="#000" stroke-width="0.35">Jun</text>
<rect x="1027.4" y="38.8" width="493.0999999999999" height="455.2" fill="none" stroke="#222" stroke-width="1"/>
<line x1="1023.9" y1="48.8" x2="1027.4" y2="48.8" stroke="#000" stroke-width="0.8"/>
<text x="1020.6" y="52.5" font-family="'DejaVu Sans', 'Liberation Sans', sans-serif" font-size="9.3" text-anchor="end" fill="#000" stroke="#000" stroke-width="0.22" >10.0</text>
<line x1="1023.9" y1="108.7" x2="1027.4" y2="108.7" stroke="#000" stroke-width="0.8"/>
<text x="1020.6" y="112.4" font-family="'DejaVu Sans', 'Liberation Sans', sans-serif" font-size="9.3" text-anchor="end" fill="#000" stroke="#000" stroke-width="0.22" >7.5</text>
<line x1="1023.9" y1="168.7" x2="1027.4" y2="168.7" stroke="#000" stroke-width="0.8"/>
<text x="1020.6" y="172.3" font-family="'DejaVu Sans', 'Liberation Sans', sans-serif" font-size="9.3" text-anchor="end" fill="#000" stroke="#000" stroke-width="0.22" >5.0</text>
<line x1="1023.9" y1="228.6" x2="1027.4" y2="228.6" stroke="#000" stroke-width="0.8"/>
<text x="1020.6" y="232.3" font-family="'DejaVu Sans', 'Liberation Sans', sans-serif" font-size="9.3" text-anchor="end" fill="#000" stroke="#000" stroke-width="0.22" >2.5</text>
<line x1="1023.9" y1="288.5" x2="1027.4" y2="288.5" stroke="#000" stroke-width="0.8"/>
<text x="1020.6" y="292.2" font-family="'DejaVu Sans', 'Liberation Sans', sans-serif" font-size="9.3" text-anchor="end" fill="#000" stroke="#000" stroke-width="0.22" >0.0</text>
<line x1="1023.9" y1="348.4" x2="1027.4" y2="348.4" stroke="#000" stroke-width="0.8"/>
<text x="1020.6" y="352.1" font-family="'DejaVu Sans', 'Liberation Sans', sans-serif" font-size="9.3" text-anchor="end" fill="#000" stroke="#000" stroke-width="0.22" >−2.5</text>
<line x1="1023.9" y1="408.4" x2="1027.4" y2="408.4" stroke="#000" stroke-width="0.8"/>
<text x="1020.6" y="412.1" font-family="'DejaVu Sans', 'Liberation Sans', sans-serif" font-size="9.3" text-anchor="end" fill="#000" stroke="#000" stroke-width="0.22" >−5.0</text>
<line x1="1023.9" y1="468.3" x2="1027.4" y2="468.3" stroke="#000" stroke-width="0.8"/>
<text x="1020.6" y="472.0" font-family="'DejaVu Sans', 'Liberation Sans', sans-serif" font-size="9.3" text-anchor="end" fill="#000" stroke="#000" stroke-width="0.22" >−7.5</text>
<text transform="translate(984.8,267.8) rotate(-90)" text-anchor="middle" font-family="'Liberation Sans', sans-serif" font-size="24.7" stroke="#000" stroke-width="0.35">Transcription factor activity</text>
<text x="1339.7" y="415.8" font-family="'Liberation Sans', sans-serif" font-size="24.8" text-anchor="middle" fill="#000" stroke="#000" stroke-width="0.35" >Transcription factor activity</text>
<rect x="1160.1" y="426.5" width="353.5" height="18" fill="url(#cw)" stroke="#333" stroke-width="0.7"/>
<line x1="1160.1" y1="444.5" x2="1160.1" y2="449.4" stroke="#000" stroke-width="1.1"/>
<text transform="translate(1155.9,453.8) rotate(90)" font-family="'DejaVu Sans', 'Liberation Sans', sans-serif" font-size="12.2" stroke="#000" stroke-width="0.22">−6</text>
<line x1="1210.6" y1="444.5" x2="1210.6" y2="449.4" stroke="#000" stroke-width="1.1"/>
<text transform="translate(1206.4,453.8) rotate(90)" font-family="'DejaVu Sans', 'Liberation Sans', sans-serif" font-size="12.2" stroke="#000" stroke-width="0.22">−4</text>
<line x1="1261.1" y1="444.5" x2="1261.1" y2="449.4" stroke="#000" stroke-width="1.1"/>
<text transform="translate(1256.9,453.8) rotate(90)" font-family="'DejaVu Sans', 'Liberation Sans', sans-serif" font-size="12.2" stroke="#000" stroke-width="0.22">−2</text>
<line x1="1311.6" y1="444.5" x2="1311.6" y2="449.4" stroke="#000" stroke-width="1.1"/>
<text transform="translate(1307.4,453.8) rotate(90)" font-family="'DejaVu Sans', 'Liberation Sans', sans-serif" font-size="12.2" stroke="#000" stroke-width="0.22">0</text>
<line x1="1362.1" y1="444.5" x2="1362.1" y2="449.4" stroke="#000" stroke-width="1.1"/>
<text transform="translate(1357.9,453.8) rotate(90)" font-family="'DejaVu Sans', 'Liberation Sans', sans-serif" font-size="12.2" stroke="#000" stroke-width="0.22">2</text>
<line x1="1412.6" y1="444.5" x2="1412.6" y2="449.4" stroke="#000" stroke-width="1.1"/>
<text transform="translate(1408.4,453.8) rotate(90)" font-family="'DejaVu Sans', 'Liberation Sans', sans-serif" font-size="12.2" stroke="#000" stroke-width="0.22">4</text>
<line x1="1463.1" y1="444.5" x2="1463.1" y2="449.4" stroke="#000" stroke-width="1.1"/>
<text transform="translate(1458.9,453.8) rotate(90)" font-family="'DejaVu Sans', 'Liberation Sans', sans-serif" font-size="12.2" stroke="#000" stroke-width="0.22">6</text>
<line x1="1513.6" y1="444.5" x2="1513.6" y2="449.4" stroke="#000" stroke-width="1.1"/>
<text transform="translate(1509.4,453.8) rotate(90)" font-family="'DejaVu Sans', 'Liberation Sans', sans-serif" font-size="12.2" stroke="#000" stroke-width="0.22">8</text>
</g>
<g id="panel-d">
<text x="1554.2" y="39.3" font-family="'Liberation Sans', sans-serif" font-size="55" text-anchor="start" fill="#000" stroke="#000" stroke-width="0.4" >d</text>
<defs><marker id="m3" markerWidth="10" markerHeight="10" refX="5" refY="5" markerUnits="userSpaceOnUse" overflow="visible"><circle cx="5" cy="5" r="3.05" fill="#4654a2" stroke="#3d4990" stroke-width="0.7"/></marker></defs>
<path d="M1874.3 487.7L1866.5 485.1L1890.7 485.8L1784.1 480.2L1797.1 476.8" fill="none" stroke="none" marker-start="url(#m3)" marker-mid="url(#m3)" marker-end="url(#m3)"/>
<defs><marker id="m4" markerWidth="10" markerHeight="10" refX="5" refY="5" markerUnits="userSpaceOnUse" overflow="visible"><circle cx="5" cy="5" r="3.05" fill="#ad2a38" stroke="#94222f" stroke-width="0.7"/></marker></defs>
<path d="M1778.1 465.4L1778.5 464.5L1779.0 464.3L1779.5 463.2L1779.9 465.7L1780.4 464.2L1780.8 473.9L1781.3 469.7L1781.7 465.2L1782.2 468.6L1782.7 466.5L1783.1 474.6L1783.6 471.4L1784.0 473.9L1784.5 471.4L1785.0 471.5L1785.4 477.0L1785.9 475.5L1786.3 475.2L1786.8 469.9L1787.2 471.6L1787.7 477.2L1788.2 472.0L1788.6 477.9L1789.1 474.3L1789.5 478.6L1790.0 479.9L1790.4 473.3L1790.9 478.8L1791.4 479.1L1791.8 473.5L1792.3 474.7L1792.7 479.4L1793.2 474.7L1793.7 478.1L1794.1 477.5L1794.6 481.1L1795.0 476.3L1795.5 478.4L1795.9 476.9L1796.4 477.7L1796.9 481.9L1797.3 481.7L1797.8 483.2L1798.2 483.6L1798.7 484.3L1799.2 483.2L1799.6 481.7L1800.1 485.4L1800.5 481.9L1801.0 484.0L1801.4 484.4L1801.9 482.0L1802.4 484.1L1802.8 485.2L1803.3 484.6L1803.7 483.8L1804.2 487.2L1804.6 483.0L1805.1 487.8L1805.6 484.7L1806.0 484.5L1806.5 488.4L1806.9 485.3L1807.4 487.4L1807.9 486.7L1808.3 489.2L1808.8 489.3L1809.2 489.0L1809.7 486.3L1810.1 489.3L1810.6 487.6L1811.1 487.2L1811.5 487.5L1812.0 489.6L1812.4 489.8L1812.9 489.5L1813.3 489.0L1813.8 491.1L1814.3 489.5L1814.7 489.6L1815.2 489.7L1815.6 492.0L1816.1 490.0L1816.6 492.2L1817.0 491.8L1817.5 491.4L1817.9 490.9L1818.4 492.3L1818.8 491.3L1819.3 492.3L1819.8 492.9L1820.2 493.0L1820.7 493.4L1821.1 493.7L1821.6 493.7L1822.0 493.1L1822.5 492.8L1823.0 494.1L1823.4 494.3L1823.9 493.4L1824.3 494.1L1824.8 494.3L1825.3 494.6L1825.7 494.4L1826.2 494.4L1826.6 494.8L1827.1 494.9L1827.5 495.2L1828.0 494.9L1828.5 495.4L1828.9 495.3L1829.4 495.3L1829.8 495.6L1830.3 495.5L1830.7 495.5L1831.2 495.7L1831.7 495.7L1832.1 495.8L1832.6 495.9L1833.0 495.9L1833.5 495.9L1834.0 495.9L1834.4 495.8L1834.9 495.7L1835.3 495.7L1835.8 495.5L1836.2 495.6L1836.7 495.5L1837.2 495.3L1837.6 495.3L1838.1 495.3L1838.5 495.1L1839.0 495.2L1839.5 495.0L1839.9 494.4L1840.4 494.3L1840.8 494.4L1841.3 494.4L1841.7 494.4L1842.2 494.5L1842.7 494.2L1843.1 493.5L1843.6 493.2L1844.0 493.7L1844.5 493.0L1844.9 492.8L1845.4 492.8L1845.9 492.6L1846.3 492.3L1846.8 492.8L1847.2 492.0L1847.7 492.6L1848.2 492.0L1848.6 491.3L1849.1 491.2L1849.5 491.9L1850.0 490.2L1850.4 490.7L1850.9 490.7L1851.4 491.9L1851.8 490.3L1852.3 490.9L1852.7 489.6L1853.2 489.9L1853.6 488.7L1854.1 488.9L1854.6 488.2L1855.0 489.5L1855.5 488.2L1855.9 487.7L1856.4 487.1L1856.9 488.6L1857.3 486.5L1857.8 486.1L1858.2 486.6L1858.7 485.2L1859.1 485.0L1859.6 486.5L1860.1 486.2L1860.5 487.6L1861.0 484.3L1861.4 483.6L1861.9 485.4L1862.3 484.1L1862.8 483.7L1863.3 483.4L1863.7 485.9L1864.2 482.5L1864.6 483.3L1865.1 482.6L1865.6 483.6L1866.0 482.2L1866.5 481.1L1866.9 481.5L1867.4 480.7L1867.8 484.6L1868.3 483.6L1868.8 481.6L1869.2 479.9L1869.7 482.4L1870.1 479.1L1870.6 479.1L1871.0 482.8L1871.5 479.6L1872.0 481.0L1872.4 481.9L1872.9 481.1L1873.3 479.5L1873.8 480.2L1874.3 479.8L1874.7 480.8L1875.2 477.2L1875.6 477.5L1876.1 475.4L1876.5 475.2L1877.0 477.7L1877.5 471.9L1877.9 479.1L1878.4 475.4L1878.8 476.2L1879.3 474.7L1879.8 477.0L1880.2 470.3L1880.7 474.1L1881.1 476.8L1881.6 471.2L1882.0 475.7L1882.5 471.1L1883.0 472.7L1883.4 470.1L1883.9 466.0L1884.3 466.9L1884.8 470.6L1885.2 466.2L1885.7 467.6L1886.2 470.1L1886.6 472.1L1887.1 466.9L1887.5 466.9L1888.0 462.2L1888.5 461.7L1888.9 465.3L1889.4 467.8L1889.8 461.2L1890.3 471.1L1890.7 469.5L1891.2 463.8L1891.7 462.8L1892.1 468.1L1892.6 461.9L1893.0 458.2L1893.5 464.2L1893.9 463.1L1894.4 465.3L1894.9 464.1L1895.3 455.0L1895.8 462.2L1896.2 454.2L1896.7 454.4L2068.3 392.1L2008.9 386.1L1944.1 390.8L1961.0 396.5L1940.7 401.2L1956.3 402.5L1953.7 414.8L1944.6 416.8L1939.4 419.5L1940.7 420.2L1985.0 414.2L2005.0 412.2L2001.9 418.9L2027.1 424.7L1969.3 429.1L1940.7 428.6L1901.1 427.8L1906.9 430.4L1913.4 431.7L1920.4 431.2L1896.4 434.3L1897.8 436.4L1949.8 438.2L1947.2 440.3L1919.9 439.0L1926.4 439.8L1930.3 439.0L1938.1 439.0L1965.4 442.1L1912.9 443.7L1943.3 445.5L1888.6 448.6L1904.3 449.4L1908.2 450.7L1914.7 450.7L1918.6 449.4L1923.8 450.7L1929.8 452.8L1943.3 448.6L1949.8 452.8L1970.6 452.5L1993.3 450.2L2005.0 455.9L2023.5 457.2L1942.5 455.9L1900.4 456.4L1905.6 457.2L1910.8 458.5L1916.0 459.8L1891.2 458.0L1893.8 461.1L1884.7 463.2L1879.5 465.0L1896.4 463.7L1901.7 464.2L1906.9 465.0L1912.1 463.2L1918.6 463.7L1921.2 466.3L1939.4 462.4L1949.8 467.6L1944.6 469.7L1947.2 470.2L1968.0 469.7L1973.3 468.9L1973.8 473.3L1987.6 465.8L2015.4 470.7L1998.0 477.2L1961.0 478.0L1934.2 472.0L1936.8 474.1L1940.7 476.2L1929.0 478.8L1916.0 478.0L1908.2 471.5L1913.4 468.9L1904.3 470.2L1899.1 468.9L1893.8 470.2L1888.6 468.9L1883.4 470.2L1878.2 471.5L1886.0 474.1L1891.2 479.3L1896.4 478.0L1901.7 476.7L1906.9 479.3L1912.1 481.9L1917.3 480.6L1925.1 482.5L1896.4 485.8L1901.7 485.3L1906.9 484.5L1886.0 486.6L1888.6 487.1L1880.8 484.5L1875.6 487.1L1870.4 483.2L1865.2 485.8L1867.8 479.3L1873.0 476.7L1875.6 474.1L1880.8 478.0L1892.5 466.3L1897.8 466.8L1903.0 467.6L1889.9 472.0L1895.1 473.6L1900.4 472.0L1905.6 473.6L1910.8 474.6L1875.6 480.6L1883.4 481.4L1732.5 390.3L1744.5 383.5L1724.2 408.3L1732.8 405.1L1739.8 406.4L1735.1 411.7L1746.6 413.2L1746.1 431.7L1754.4 434.6L1756.5 433.8L1708.6 443.4L1726.3 444.2L1734.1 446.0L1756.0 447.6L1762.0 445.5L1760.7 450.7L1739.3 456.7L1756.8 457.2L1746.3 460.6L1748.9 459.3L1771.6 456.5L1758.1 463.2L1770.6 464.3L1778.4 466.4L1764.6 469.0L1766.4 472.9L1736.7 472.9L1742.4 472.6L1706.0 477.3L1772.4 478.6L1776.3 471.6L1781.5 472.9L1785.4 470.3L1786.7 475.5L1790.6 474.2L1793.2 478.1L1778.9 482.0L1772.9 485.4L1789.3 487.2L1797.1 483.3L1799.7 487.2L1797.1 489.8L1782.8 478.1L1788.0 480.7L1791.9 482.5L1794.5 485.1L2003.4 224.4L2022.6 228.7L2017.0 236.7L1978.7 266.3L1980.3 267.5L2027.8 277.1L1988.3 292.7L1973.1 319.0L2009.8 328.2L2005.0 337.8L1982.3 353.4L2007.0 360.6L1992.3 367.3L2008.6 386.1L1950.7 359.4L1976.7 359.0L1943.1 369.3L1945.1 377.3L1944.3 390.1L1961.1 396.1L1940.7 400.9L1955.9 402.1L2068.5 392.1L2005.0 412.1L1984.7 414.9L1953.1 415.3L1945.1 416.9L1938.7 418.9L2001.8 418.9L1643.7 240.1L1684.2 280.6L1682.6 296.3L1693.3 329.5L1715.1 358.5L1744.5 383.0L1733.0 390.2L2039.2 32.7L2141.3 93.1" fill="none" stroke="none" marker-start="url(#m4)" marker-mid="url(#m4)" marker-end="url(#m4)"/>
<path d="M1943.3 385.1L1940.2 435.1L1898.5 448.1L1949.8 455.4L1691.9 418.2L1720.3 436.4L1735.9 451.3L1767.2 458.5L1781.0 463.8L1741.1 405.7L1957.1 360.2L1943.1 385.3" fill="none" stroke="none" marker-start="url(#m3)" marker-mid="url(#m3)" marker-end="url(#m3)"/>
<line x1="1792.4" y1="9.2" x2="1792.4" y2="518.9" stroke="#000" stroke-width="1.9" stroke-dasharray="6.9 3.0" stroke-dashoffset="3.5"/>
<line x1="1874.2" y1="9.2" x2="1874.2" y2="518.9" stroke="#000" stroke-width="1.9" stroke-dasharray="6.9 3.0" stroke-dashoffset="3.5"/>
<line x1="1619.0" y1="479.3" x2="2166.5" y2="479.3" stroke="#000" stroke-width="1.75" stroke-dasharray="6.7 3.05"/>
<line x1="1690.0" y1="277.0" x2="1686.1" y2="279.1" stroke="#000" stroke-width="1.15"/>
<line x1="1697.0" y1="326.5" x2="1695.1" y2="327.8" stroke="#000" stroke-width="1.15"/>
<line x1="1719.0" y1="355.5" x2="1716.9" y2="356.9" stroke="#000" stroke-width="1.15"/>
<line x1="1749.5" y1="380.0" x2="1746.5" y2="381.6" stroke="#000" stroke-width="1.15"/>
<line x1="2006.5" y1="220.0" x2="2004.7" y2="222.3" stroke="#000" stroke-width="1.15"/>
<line x1="2026.0" y1="226.5" x2="2024.5" y2="227.3" stroke="#000" stroke-width="1.15"/>
<line x1="1984.0" y1="267.0" x2="1980.9" y2="266.3" stroke="#000" stroke-width="1.15"/>
<line x1="2021.0" y1="322.0" x2="2011.8" y2="326.8" stroke="#000" stroke-width="1.15"/>
<line x1="2012.0" y1="326.0" x2="2011.5" y2="326.4" stroke="#000" stroke-width="1.15"/>
<line x1="1953.5" y1="355.0" x2="1952.0" y2="357.2" stroke="#000" stroke-width="1.15"/>
<line x1="1987.9" y1="337.0" x2="1983.0" y2="350.9" stroke="#000" stroke-width="1.15"/>
<line x1="1933.0" y1="362.5" x2="1948.5" y2="359.4" stroke="#000" stroke-width="1.15"/>
<line x1="2002.0" y1="365.5" x2="1994.5" y2="366.6" stroke="#000" stroke-width="1.15"/>
<line x1="1952.0" y1="372.0" x2="1945.2" y2="369.6" stroke="#000" stroke-width="1.15"/>
<line x1="1959.0" y1="388.0" x2="1953.7" y2="383.4" stroke="#000" stroke-width="1.15"/>
<text x="1646.0" y="238.7" font-family="'DejaVu Sans', 'Liberation Sans', sans-serif" font-size="12.1" text-anchor="start" fill="#000" stroke="#000" stroke-width="0.22" >C1qtnf3</text>
<text x="1686.8" y="271.9" font-family="'DejaVu Sans', 'Liberation Sans', sans-serif" font-size="12.1" text-anchor="start" fill="#000" stroke="#000" stroke-width="0.22" >Cyp4b1</text>
<text x="1685.0" y="300.5" font-family="'DejaVu Sans', 'Liberation Sans', sans-serif" font-size="12.1" text-anchor="start" fill="#000" stroke="#000" stroke-width="0.22" >Egf</text>
<text x="1693.3" y="320.1" font-family="'DejaVu Sans', 'Liberation Sans', sans-serif" font-size="12.1" text-anchor="start" fill="#000" stroke="#000" stroke-width="0.22" >Ppara</text>
<text x="1715.5" y="349.5" font-family="'DejaVu Sans', 'Liberation Sans', sans-serif" font-size="12.1" text-anchor="start" fill="#000" stroke="#000" stroke-width="0.22" >Cldn2</text>
<text x="1746.4" y="373.9" font-family="'DejaVu Sans', 'Liberation Sans', sans-serif" font-size="12.1" text-anchor="start" fill="#000" stroke="#000" stroke-width="0.22" >Enpp2</text>
<text x="1729.6" y="390.7" font-family="'DejaVu Sans', 'Liberation Sans', sans-serif" font-size="12.1" text-anchor="start" fill="#000" stroke="#000" stroke-width="0.22" >Id2</text>
<text x="2041.7" y="30.7" font-family="'DejaVu Sans', 'Liberation Sans', sans-serif" font-size="12.1" text-anchor="start" fill="#000" stroke="#000" stroke-width="0.22" >Cdkn1a</text>
<text x="2111.8" y="88.3" font-family="'DejaVu Sans', 'Liberation Sans', sans-serif" font-size="12.1" text-anchor="start" fill="#000" stroke="#000" stroke-width="0.22" >Serpine1</text>
<text x="1995.8" y="213.3" font-family="'DejaVu Sans', 'Liberation Sans', sans-serif" font-size="12.1" text-anchor="start" fill="#000" stroke="#000" stroke-width="0.22" >Fabp4</text>
<text x="2036.2" y="222.5" font-family="'DejaVu Sans', 'Liberation Sans', sans-serif" font-size="12.1" text-anchor="start" fill="#000" stroke="#000" stroke-width="0.22" >Hspb1</text>
<text x="2029.0" y="237.2" font-family="'DejaVu Sans', 'Liberation Sans', sans-serif" font-size="12.1" text-anchor="start" fill="#000" stroke="#000" stroke-width="0.22" >Nr4a1</text>
<text x="1967.1" y="258.4" font-family="'DejaVu Sans', 'Liberation Sans', sans-serif" font-size="12.1" text-anchor="start" fill="#000" stroke="#000" stroke-width="0.22" >S100a10</text>
<text x="1981.9" y="275.2" font-family="'DejaVu Sans', 'Liberation Sans', sans-serif" font-size="12.1" text-anchor="start" fill="#000" stroke="#000" stroke-width="0.22" >Nos3</text>
<text x="2033.8" y="271.6" font-family="'DejaVu Sans', 'Liberation Sans', sans-serif" font-size="12.1" text-anchor="start" fill="#000" stroke="#000" stroke-width="0.22" >Ankrd1</text>
<text x="1996.2" y="293.2" font-family="'DejaVu Sans', 'Liberation Sans', sans-serif" font-size="12.1" text-anchor="start" fill="#000" stroke="#000" stroke-width="0.22" >Cxcl1</text>
<text x="1965.9" y="308.7" font-family="'DejaVu Sans', 'Liberation Sans', sans-serif" font-size="12.1" text-anchor="start" fill="#000" stroke="#000" stroke-width="0.22" >Fosl2</text>
<text x="2018.2" y="315.5" font-family="'DejaVu Sans', 'Liberation Sans', sans-serif" font-size="12.1" text-anchor="start" fill="#000" stroke="#000" stroke-width="0.22" >Gprc5a</text>
<text x="1977.5" y="329.5" font-family="'DejaVu Sans', 'Liberation Sans', sans-serif" font-size="12.1" text-anchor="start" fill="#000" stroke="#000" stroke-width="0.22" >Plaur</text>
<text x="2013.4" y="334.3" font-family="'DejaVu Sans', 'Liberation Sans', sans-serif" font-size="12.1" text-anchor="start" fill="#000" stroke="#000" stroke-width="0.22" >Egr1</text>
<text x="1943.9" y="347.5" font-family="'DejaVu Sans', 'Liberation Sans', sans-serif" font-size="12.1" text-anchor="start" fill="#000" stroke="#000" stroke-width="0.22" >Rhoc</text>
<text x="1979.9" y="349.1" font-family="'DejaVu Sans', 'Liberation Sans', sans-serif" font-size="12.1" text-anchor="start" fill="#000" stroke="#000" stroke-width="0.22" >Rhob</text>
<text x="2016.2" y="351.1" font-family="'DejaVu Sans', 'Liberation Sans', sans-serif" font-size="12.1" text-anchor="start" fill="#000" stroke="#000" stroke-width="0.22" >Bmp2</text>
<text x="1909.6" y="367.4" font-family="'DejaVu Sans', 'Liberation Sans', sans-serif" font-size="12.1" text-anchor="start" fill="#000" stroke="#000" stroke-width="0.22" >Pdgfb</text>
<text x="1959.1" y="366.6" font-family="'DejaVu Sans', 'Liberation Sans', sans-serif" font-size="12.1" text-anchor="start" fill="#000" stroke="#000" stroke-width="0.22" >Eln</text>
<text x="2009.8" y="367.0" font-family="'DejaVu Sans', 'Liberation Sans', sans-serif" font-size="12.1" text-anchor="start" fill="#000" stroke="#000" stroke-width="0.22" >Vim</text>
<text x="1947.1" y="386.2" font-family="'DejaVu Sans', 'Liberation Sans', sans-serif" font-size="12.1" text-anchor="start" fill="#000" stroke="#000" stroke-width="0.22" >Ppp1r15a</text>
<text x="2017.0" y="391.4" font-family="'DejaVu Sans', 'Liberation Sans', sans-serif" font-size="12.1" text-anchor="start" fill="#000" stroke="#000" stroke-width="0.22" >Tnc</text>
<text x="1917.6" y="400.2" font-family="'DejaVu Sans', 'Liberation Sans', sans-serif" font-size="12.1" text-anchor="start" fill="#000" stroke="#000" stroke-width="0.22" >Ccn2</text>
<text x="1953.9" y="402.2" font-family="'DejaVu Sans', 'Liberation Sans', sans-serif" font-size="12.1" text-anchor="start" fill="#000" stroke="#000" stroke-width="0.22" >Lamc2</text>
<rect x="1619.0" y="9.2" width="547.5" height="509.7" fill="none" stroke="#111" stroke-width="1.05"/>
<line x1="1669.7" y1="518.9" x2="1669.7" y2="522.9" stroke="#000" stroke-width="0.9"/>
<text x="1669.7" y="537.1" font-family="'DejaVu Sans', 'Liberation Sans', sans-serif" font-size="11.8" text-anchor="middle" fill="#000" stroke="#000" stroke-width="0.22" >−4</text>
<line x1="1751.5" y1="518.9" x2="1751.5" y2="522.9" stroke="#000" stroke-width="0.9"/>
<text x="1751.5" y="537.1" font-family="'DejaVu Sans', 'Liberation Sans', sans-serif" font-size="11.8" text-anchor="middle" fill="#000" stroke="#000" stroke-width="0.22" >−2</text>
<line x1="1833.3" y1="518.9" x2="1833.3" y2="522.9" stroke="#000" stroke-width="0.9"/>
<text x="1833.3" y="537.1" font-family="'DejaVu Sans', 'Liberation Sans', sans-serif" font-size="11.8" text-anchor="middle" fill="#000" stroke="#000" stroke-width="0.22" >0</text>
<line x1="1915.1" y1="518.9" x2="1915.1" y2="522.9" stroke="#000" stroke-width="0.9"/>
<text x="1915.1" y="537.1" font-family="'DejaVu Sans', 'Liberation Sans', sans-serif" font-size="11.8" text-anchor="middle" fill="#000" stroke="#000" stroke-width="0.22" >2</text>
<line x1="1996.9" y1="518.9" x2="1996.9" y2="522.9" stroke="#000" stroke-width="0.9"/>
<text x="1996.9" y="537.1" font-family="'DejaVu Sans', 'Liberation Sans', sans-serif" font-size="11.8" text-anchor="middle" fill="#000" stroke="#000" stroke-width="0.22" >4</text>
<line x1="2078.7" y1="518.9" x2="2078.7" y2="522.9" stroke="#000" stroke-width="0.9"/>
<text x="2078.7" y="537.1" font-family="'DejaVu Sans', 'Liberation Sans', sans-serif" font-size="11.8" text-anchor="middle" fill="#000" stroke="#000" stroke-width="0.22" >6</text>
<line x1="2160.5" y1="518.9" x2="2160.5" y2="522.9" stroke="#000" stroke-width="0.9"/>
<text x="2160.5" y="537.1" font-family="'DejaVu Sans', 'Liberation Sans', sans-serif" font-size="11.8" text-anchor="middle" fill="#000" stroke="#000" stroke-width="0.22" >8</text>
<line x1="1615.0" y1="495.9" x2="1619.0" y2="495.9" stroke="#000" stroke-width="0.9"/>
<text x="1610.2" y="500.3" font-family="'DejaVu Sans', 'Liberation Sans', sans-serif" font-size="11.8" text-anchor="end" fill="#000" stroke="#000" stroke-width="0.22" >0</text>
<line x1="1615.0" y1="412.6" x2="1619.0" y2="412.6" stroke="#000" stroke-width="0.9"/>
<text x="1610.2" y="417.0" font-family="'DejaVu Sans', 'Liberation Sans', sans-serif" font-size="11.8" text-anchor="end" fill="#000" stroke="#000" stroke-width="0.22" >10</text>
<line x1="1615.0" y1="329.3" x2="1619.0" y2="329.3" stroke="#000" stroke-width="0.9"/>
<text x="1610.2" y="333.7" font-family="'DejaVu Sans', 'Liberation Sans', sans-serif" font-size="11.8" text-anchor="end" fill="#000" stroke="#000" stroke-width="0.22" >20</text>
<line x1="1615.0" y1="246.0" x2="1619.0" y2="246.0" stroke="#000" stroke-width="0.9"/>
<text x="1610.2" y="250.4" font-family="'DejaVu Sans', 'Liberation Sans', sans-serif" font-size="11.8" text-anchor="end" fill="#000" stroke="#000" stroke-width="0.22" >30</text>
<line x1="1615.0" y1="162.7" x2="1619.0" y2="162.7" stroke="#000" stroke-width="0.9"/>
<text x="1610.2" y="167.1" font-family="'DejaVu Sans', 'Liberation Sans', sans-serif" font-size="11.8" text-anchor="end" fill="#000" stroke="#000" stroke-width="0.22" >40</text>
<line x1="1615.0" y1="79.4" x2="1619.0" y2="79.4" stroke="#000" stroke-width="0.9"/>
<text x="1610.2" y="83.8" font-family="'DejaVu Sans', 'Liberation Sans', sans-serif" font-size="11.8" text-anchor="end" fill="#000" stroke="#000" stroke-width="0.22" >50</text>
<text x="1793.9" y="565.5" font-family="'Liberation Sans', sans-serif" font-size="24.9" stroke="#000" stroke-width="0.35">log<tspan font-size="13" dy="0.6">2</tspan><tspan dy="-0.6"> fold change</tspan></text>
<text transform="translate(1580,269.7) rotate(-90)" text-anchor="middle" font-family="'Liberation Sans', sans-serif" font-size="25" stroke="#000" stroke-width="0.35">-log<tspan font-size="13" dy="0.6">10</tspan><tspan dy="-0.6">(adjusted p-value)</tspan></text>
</g>
</svg>
</body></html>
